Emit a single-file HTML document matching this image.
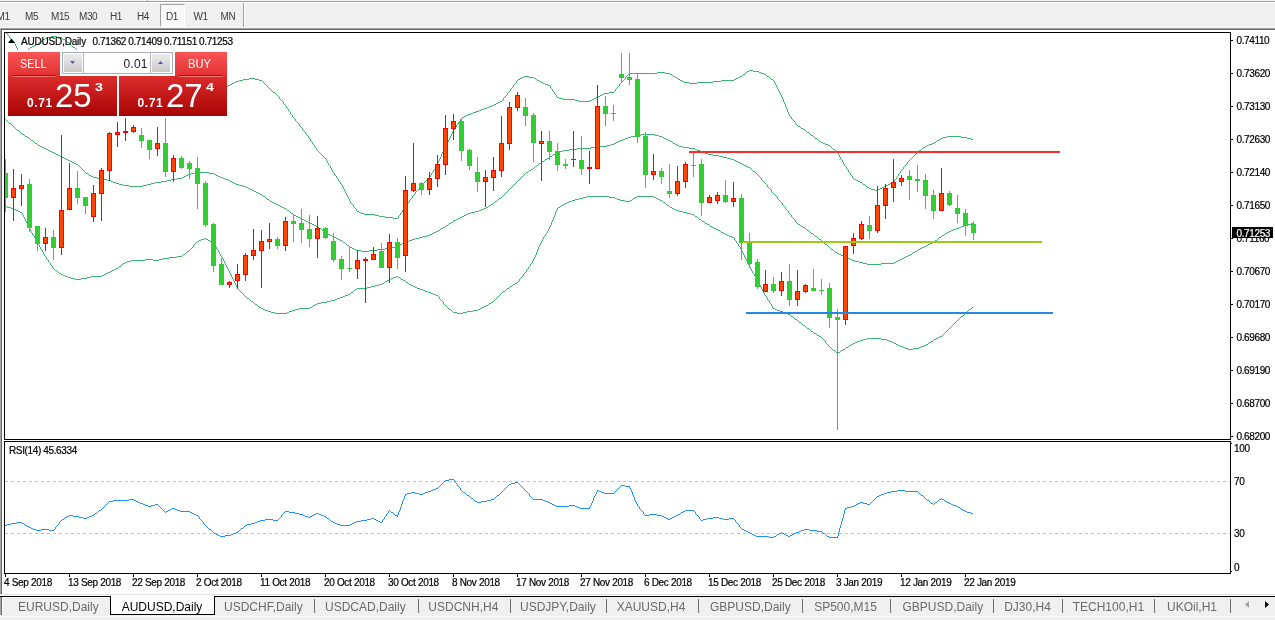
<!DOCTYPE html>
<html lang="en"><head><meta charset="utf-8"><title>AUDUSD,Daily</title>
<style>
html,body{margin:0;padding:0;}
body{width:1275px;height:620px;position:relative;overflow:hidden;background:#fff;font-family:"Liberation Sans",sans-serif;color:#000;}
.abs{position:absolute;}
.toolbar{position:absolute;left:0;top:0;width:1275px;height:27px;background:#f0f0f0;}
.tf{position:absolute;top:11px;font-size:10px;letter-spacing:-0.4px;line-height:11px;color:#3c3c3c;white-space:nowrap;}
.chart{position:absolute;left:0;top:0;}
.ax{position:absolute;font-size:10px;line-height:11px;letter-spacing:-0.37px;white-space:nowrap;color:#000;-webkit-text-stroke:0.2px #000;}
.tabbar{position:absolute;left:0;top:594px;width:1275px;height:26px;background:#f0f0f0;}
.tab{position:absolute;top:600px;font-size:12px;line-height:14px;color:#6a6a6a;white-space:nowrap;}
.sep{position:absolute;top:599px;width:1px;height:14px;background:#707070;}
.panel{position:absolute;left:8px;top:52px;width:219px;height:64px;background:#fff;color:#fff;}
</style></head><body>
<div class="toolbar">
<div class="abs" style="left:0;top:0;width:1275px;height:1px;background:#f5f5f5"></div>
<div class="abs" style="left:0;top:1px;width:1275px;height:1px;background:#a0a0a0"></div>
<div class="abs" style="left:0;top:2px;width:1275px;height:1px;background:#fff"></div>
<div class="abs" style="left:147px;top:0;width:1px;height:2px;background:#a0a0a0"></div>
<div class="abs" style="left:148px;top:0;width:1px;height:1px;background:#fff"></div>
<div class="abs" style="left:160px;top:4px;width:23px;height:21px;background:#f8f8f8;border-left:1px solid #a0a0a0;border-top:1px solid #a0a0a0;border-right:1px solid #fff;border-bottom:1px solid #fff;box-sizing:content-box"></div>
<div class="abs" style="left:243px;top:3px;width:1px;height:24px;background:#a0a0a0"></div>
<div class="abs" style="left:244px;top:3px;width:1px;height:24px;background:#fff"></div>
<span class="tf" style="left:-3.5px">M1</span>
<span class="tf" style="left:25px">M5</span>
<span class="tf" style="left:51px">M15</span>
<span class="tf" style="left:79px">M30</span>
<span class="tf" style="left:110px">H1</span>
<span class="tf" style="left:137px">H4</span>
<span class="tf" style="left:166px">D1</span>
<span class="tf" style="left:193.5px">W1</span>
<span class="tf" style="left:220.5px">MN</span>
</div>
<div class="abs" style="left:0;top:27px;width:1275px;height:1px;background:#f6f6f6"></div>
<div class="abs" style="left:0;top:28px;width:1275px;height:1px;background:#a0a0a0"></div>
<div class="abs" style="left:1px;top:29px;width:1274px;height:1px;background:#696969"></div>
<div class="abs" style="left:0;top:28px;width:1px;height:566px;background:#a6a6a6"></div>
<div class="abs" style="left:1px;top:29px;width:1px;height:565px;background:#696969"></div>
<svg class="chart" width="1275" height="620" viewBox="0 0 1275 620" shape-rendering="crispEdges">
<defs><clipPath id="cm"><rect x="5" y="33" width="1225" height="406"/></clipPath><clipPath id="cr"><rect x="5" y="442" width="1225" height="131"/></clipPath></defs>
<g clip-path="url(#cm)">
<path d="M5 32h1v1h-1zM6 33h1v1h-1zM7 34h1v1h-1zM8 35h1v1h-1zM9 36h1v1h-1zM51 36h6v1h-6zM9 37h1v1h-1zM47 37h4v1h-4zM57 37h5v1h-5zM10 38h1v1h-1zM45 38h2v1h-2zM62 38h1v1h-1zM11 39h1v1h-1zM43 39h2v1h-2zM63 39h2v1h-2zM12 40h1v1h-1zM42 40h1v1h-1zM65 40h1v1h-1zM13 41h1v1h-1zM41 41h1v1h-1zM66 41h1v1h-1zM14 42h1v1h-1zM39 42h2v1h-2zM67 42h2v1h-2zM14 43h1v1h-1zM38 43h1v1h-1zM69 43h1v1h-1zM15 44h1v1h-1zM36 44h2v1h-2zM70 44h1v1h-1zM15 45h1v1h-1zM34 45h2v1h-2zM71 45h1v1h-1zM16 46h1v1h-1zM32 46h2v1h-2zM72 46h1v1h-1zM16 47h1v1h-1zM30 47h2v1h-2zM73 47h2v1h-2zM17 48h1v1h-1zM29 48h1v1h-1zM75 48h1v1h-1zM17 49h1v1h-1zM28 49h1v1h-1zM76 49h1v1h-1zM18 50h1v1h-1zM27 50h1v1h-1zM77 50h1v1h-1zM18 51h1v1h-1zM26 51h1v1h-1zM78 51h1v1h-1zM19 52h1v1h-1zM25 52h1v1h-1zM79 52h1v1h-1zM19 53h1v1h-1zM25 53h1v1h-1zM80 53h1v1h-1zM20 54h1v1h-1zM24 54h1v1h-1zM81 54h1v1h-1zM20 55h1v1h-1zM23 55h1v1h-1zM82 55h1v1h-1zM21 56h2v1h-2zM83 56h1v1h-1zM21 57h1v1h-1zM84 57h1v1h-1zM85 58h1v1h-1zM86 59h1v1h-1zM87 60h2v1h-2zM89 61h1v1h-1zM90 62h1v1h-1zM91 63h2v1h-2zM93 64h1v1h-1zM94 65h1v1h-1zM95 66h2v1h-2zM97 67h1v1h-1zM98 68h1v1h-1zM99 69h2v1h-2zM101 70h1v1h-1zM749 70h4v1h-4zM102 71h2v1h-2zM747 71h2v1h-2zM753 71h6v1h-6zM104 72h2v1h-2zM657 72h8v1h-8zM746 72h1v1h-1zM759 72h2v1h-2zM106 73h2v1h-2zM629 73h28v1h-28zM665 73h5v1h-5zM745 73h1v1h-1zM761 73h3v1h-3zM108 74h2v1h-2zM628 74h1v1h-1zM670 74h2v1h-2zM743 74h2v1h-2zM764 74h2v1h-2zM110 75h2v1h-2zM627 75h1v1h-1zM672 75h1v1h-1zM742 75h1v1h-1zM766 75h1v1h-1zM112 76h2v1h-2zM524 76h5v1h-5zM626 76h1v1h-1zM673 76h2v1h-2zM740 76h2v1h-2zM767 76h2v1h-2zM114 77h2v1h-2zM522 77h2v1h-2zM529 77h5v1h-5zM625 77h1v1h-1zM675 77h2v1h-2zM738 77h2v1h-2zM769 77h1v1h-1zM116 78h2v1h-2zM249 78h6v1h-6zM520 78h2v1h-2zM534 78h2v1h-2zM625 78h1v1h-1zM677 78h1v1h-1zM736 78h2v1h-2zM770 78h1v1h-1zM118 79h2v1h-2zM243 79h6v1h-6zM255 79h4v1h-4zM518 79h2v1h-2zM536 79h1v1h-1zM624 79h1v1h-1zM678 79h2v1h-2zM734 79h2v1h-2zM771 79h2v1h-2zM120 80h2v1h-2zM239 80h4v1h-4zM259 80h3v1h-3zM517 80h1v1h-1zM537 80h2v1h-2zM623 80h1v1h-1zM680 80h2v1h-2zM721 80h13v1h-13zM773 80h1v1h-1zM122 81h2v1h-2zM236 81h3v1h-3zM262 81h1v1h-1zM516 81h1v1h-1zM539 81h2v1h-2zM622 81h1v1h-1zM682 81h2v1h-2zM713 81h8v1h-8zM774 81h1v1h-1zM124 82h2v1h-2zM234 82h2v1h-2zM263 82h1v1h-1zM516 82h1v1h-1zM541 82h2v1h-2zM621 82h1v1h-1zM684 82h5v1h-5zM697 82h16v1h-16zM774 82h1v1h-1zM126 83h2v1h-2zM232 83h2v1h-2zM264 83h1v1h-1zM515 83h1v1h-1zM543 83h2v1h-2zM620 83h1v1h-1zM689 83h8v1h-8zM775 83h1v1h-1zM128 84h2v1h-2zM230 84h2v1h-2zM265 84h1v1h-1zM514 84h1v1h-1zM545 84h3v1h-3zM619 84h1v1h-1zM775 84h1v1h-1zM130 85h2v1h-2zM228 85h2v1h-2zM266 85h1v1h-1zM513 85h1v1h-1zM548 85h2v1h-2zM619 85h1v1h-1zM776 85h1v1h-1zM132 86h2v1h-2zM225 86h3v1h-3zM267 86h1v1h-1zM513 86h1v1h-1zM550 86h1v1h-1zM618 86h1v1h-1zM776 86h1v1h-1zM134 87h2v1h-2zM223 87h2v1h-2zM268 87h1v1h-1zM512 87h1v1h-1zM550 87h1v1h-1zM617 87h1v1h-1zM777 87h1v1h-1zM136 88h2v1h-2zM219 88h4v1h-4zM269 88h1v1h-1zM511 88h1v1h-1zM551 88h1v1h-1zM616 88h1v1h-1zM777 88h1v1h-1zM138 89h2v1h-2zM215 89h4v1h-4zM270 89h1v1h-1zM510 89h1v1h-1zM552 89h1v1h-1zM615 89h1v1h-1zM778 89h1v1h-1zM140 90h2v1h-2zM212 90h3v1h-3zM271 90h1v1h-1zM510 90h1v1h-1zM552 90h1v1h-1zM615 90h1v1h-1zM778 90h1v1h-1zM142 91h2v1h-2zM209 91h3v1h-3zM272 91h1v1h-1zM509 91h1v1h-1zM553 91h1v1h-1zM614 91h1v1h-1zM779 91h1v1h-1zM144 92h2v1h-2zM207 92h2v1h-2zM273 92h2v1h-2zM508 92h1v1h-1zM554 92h1v1h-1zM609 92h5v1h-5zM779 92h1v1h-1zM146 93h2v1h-2zM201 93h6v1h-6zM275 93h1v1h-1zM507 93h1v1h-1zM554 93h1v1h-1zM604 93h5v1h-5zM780 93h1v1h-1zM148 94h53v1h-53zM276 94h1v1h-1zM507 94h1v1h-1zM555 94h1v1h-1zM602 94h2v1h-2zM780 94h1v1h-1zM277 95h1v1h-1zM506 95h1v1h-1zM556 95h1v1h-1zM600 95h2v1h-2zM781 95h1v1h-1zM278 96h1v1h-1zM505 96h1v1h-1zM556 96h1v1h-1zM598 96h2v1h-2zM781 96h1v1h-1zM279 97h1v1h-1zM504 97h1v1h-1zM557 97h2v1h-2zM596 97h2v1h-2zM782 97h1v1h-1zM279 98h1v1h-1zM503 98h1v1h-1zM559 98h4v1h-4zM594 98h2v1h-2zM782 98h1v1h-1zM280 99h1v1h-1zM503 99h1v1h-1zM563 99h12v1h-12zM592 99h2v1h-2zM783 99h1v1h-1zM281 100h1v1h-1zM502 100h1v1h-1zM575 100h4v1h-4zM590 100h2v1h-2zM783 100h1v1h-1zM282 101h1v1h-1zM500 101h2v1h-2zM579 101h11v1h-11zM783 101h1v1h-1zM283 102h1v1h-1zM498 102h2v1h-2zM784 102h1v1h-1zM283 103h1v1h-1zM496 103h2v1h-2zM784 103h1v1h-1zM284 104h1v1h-1zM494 104h2v1h-2zM785 104h1v1h-1zM285 105h1v1h-1zM492 105h2v1h-2zM785 105h1v1h-1zM286 106h1v1h-1zM489 106h3v1h-3zM785 106h1v1h-1zM286 107h1v1h-1zM487 107h2v1h-2zM786 107h1v1h-1zM287 108h1v1h-1zM484 108h3v1h-3zM786 108h1v1h-1zM288 109h1v1h-1zM481 109h3v1h-3zM787 109h1v1h-1zM288 110h1v1h-1zM479 110h2v1h-2zM787 110h1v1h-1zM289 111h1v1h-1zM476 111h3v1h-3zM787 111h1v1h-1zM290 112h1v1h-1zM473 112h3v1h-3zM788 112h1v1h-1zM290 113h1v1h-1zM471 113h2v1h-2zM788 113h1v1h-1zM291 114h1v1h-1zM468 114h3v1h-3zM789 114h1v1h-1zM292 115h1v1h-1zM466 115h2v1h-2zM789 115h1v1h-1zM292 116h1v1h-1zM464 116h2v1h-2zM790 116h1v1h-1zM293 117h1v1h-1zM462 117h2v1h-2zM791 117h1v1h-1zM294 118h1v1h-1zM461 118h1v1h-1zM791 118h1v1h-1zM295 119h1v1h-1zM460 119h1v1h-1zM792 119h1v1h-1zM295 120h1v1h-1zM460 120h1v1h-1zM793 120h1v1h-1zM296 121h1v1h-1zM459 121h1v1h-1zM794 121h1v1h-1zM297 122h1v1h-1zM458 122h1v1h-1zM795 122h1v1h-1zM298 123h1v1h-1zM458 123h1v1h-1zM795 123h1v1h-1zM299 124h1v1h-1zM457 124h1v1h-1zM796 124h1v1h-1zM299 125h1v1h-1zM456 125h1v1h-1zM797 125h1v1h-1zM300 126h1v1h-1zM456 126h1v1h-1zM798 126h2v1h-2zM301 127h1v1h-1zM455 127h1v1h-1zM800 127h1v1h-1zM302 128h1v1h-1zM454 128h1v1h-1zM801 128h2v1h-2zM302 129h1v1h-1zM454 129h1v1h-1zM803 129h2v1h-2zM303 130h1v1h-1zM453 130h1v1h-1zM805 130h1v1h-1zM304 131h1v1h-1zM453 131h1v1h-1zM806 131h1v1h-1zM305 132h1v1h-1zM452 132h1v1h-1zM807 132h2v1h-2zM305 133h1v1h-1zM452 133h1v1h-1zM809 133h1v1h-1zM306 134h1v1h-1zM451 134h1v1h-1zM810 134h1v1h-1zM307 135h1v1h-1zM451 135h1v1h-1zM811 135h2v1h-2zM308 136h1v1h-1zM450 136h1v1h-1zM813 136h1v1h-1zM947 136h14v1h-14zM308 137h1v1h-1zM450 137h1v1h-1zM814 137h1v1h-1zM943 137h4v1h-4zM961 137h6v1h-6zM309 138h1v1h-1zM449 138h1v1h-1zM815 138h2v1h-2zM941 138h2v1h-2zM967 138h4v1h-4zM310 139h1v1h-1zM449 139h1v1h-1zM817 139h1v1h-1zM939 139h2v1h-2zM971 139h2v1h-2zM310 140h1v1h-1zM448 140h1v1h-1zM818 140h1v1h-1zM937 140h2v1h-2zM311 141h1v1h-1zM448 141h1v1h-1zM819 141h2v1h-2zM936 141h1v1h-1zM312 142h1v1h-1zM447 142h1v1h-1zM821 142h2v1h-2zM934 142h2v1h-2zM312 143h1v1h-1zM447 143h1v1h-1zM823 143h2v1h-2zM932 143h2v1h-2zM313 144h1v1h-1zM446 144h1v1h-1zM825 144h3v1h-3zM929 144h3v1h-3zM314 145h1v1h-1zM446 145h1v1h-1zM828 145h2v1h-2zM927 145h2v1h-2zM314 146h1v1h-1zM445 146h1v1h-1zM830 146h1v1h-1zM925 146h2v1h-2zM315 147h1v1h-1zM445 147h1v1h-1zM831 147h1v1h-1zM923 147h2v1h-2zM316 148h1v1h-1zM444 148h1v1h-1zM832 148h1v1h-1zM922 148h1v1h-1zM316 149h1v1h-1zM444 149h1v1h-1zM833 149h2v1h-2zM921 149h1v1h-1zM317 150h1v1h-1zM443 150h1v1h-1zM835 150h1v1h-1zM919 150h2v1h-2zM318 151h1v1h-1zM443 151h1v1h-1zM836 151h1v1h-1zM918 151h1v1h-1zM319 152h1v1h-1zM442 152h1v1h-1zM837 152h1v1h-1zM917 152h1v1h-1zM320 153h1v1h-1zM442 153h1v1h-1zM838 153h1v1h-1zM916 153h1v1h-1zM321 154h1v1h-1zM441 154h1v1h-1zM838 154h1v1h-1zM915 154h1v1h-1zM322 155h1v1h-1zM441 155h1v1h-1zM839 155h1v1h-1zM914 155h1v1h-1zM323 156h1v1h-1zM441 156h1v1h-1zM839 156h1v1h-1zM913 156h1v1h-1zM324 157h1v1h-1zM440 157h1v1h-1zM840 157h1v1h-1zM912 157h1v1h-1zM325 158h1v1h-1zM440 158h1v1h-1zM840 158h1v1h-1zM911 158h1v1h-1zM326 159h1v1h-1zM439 159h1v1h-1zM841 159h1v1h-1zM910 159h1v1h-1zM326 160h1v1h-1zM439 160h1v1h-1zM842 160h1v1h-1zM909 160h1v1h-1zM327 161h1v1h-1zM438 161h1v1h-1zM842 161h1v1h-1zM908 161h1v1h-1zM327 162h1v1h-1zM438 162h1v1h-1zM843 162h1v1h-1zM907 162h1v1h-1zM328 163h1v1h-1zM437 163h1v1h-1zM843 163h1v1h-1zM907 163h1v1h-1zM328 164h1v1h-1zM437 164h1v1h-1zM844 164h1v1h-1zM906 164h1v1h-1zM329 165h1v1h-1zM436 165h1v1h-1zM844 165h1v1h-1zM905 165h1v1h-1zM330 166h1v1h-1zM436 166h1v1h-1zM845 166h1v1h-1zM904 166h1v1h-1zM330 167h1v1h-1zM435 167h1v1h-1zM846 167h1v1h-1zM903 167h1v1h-1zM331 168h1v1h-1zM435 168h1v1h-1zM846 168h1v1h-1zM903 168h1v1h-1zM331 169h1v1h-1zM434 169h1v1h-1zM847 169h1v1h-1zM902 169h1v1h-1zM332 170h1v1h-1zM433 170h1v1h-1zM848 170h1v1h-1zM901 170h1v1h-1zM332 171h1v1h-1zM433 171h1v1h-1zM848 171h1v1h-1zM900 171h1v1h-1zM333 172h1v1h-1zM432 172h1v1h-1zM849 172h1v1h-1zM900 172h1v1h-1zM334 173h1v1h-1zM431 173h1v1h-1zM850 173h1v1h-1zM899 173h1v1h-1zM334 174h1v1h-1zM431 174h1v1h-1zM850 174h1v1h-1zM898 174h1v1h-1zM335 175h1v1h-1zM430 175h1v1h-1zM851 175h1v1h-1zM898 175h1v1h-1zM336 176h1v1h-1zM430 176h1v1h-1zM852 176h1v1h-1zM897 176h1v1h-1zM336 177h1v1h-1zM429 177h1v1h-1zM852 177h1v1h-1zM896 177h1v1h-1zM337 178h1v1h-1zM428 178h1v1h-1zM853 178h1v1h-1zM896 178h1v1h-1zM338 179h1v1h-1zM427 179h1v1h-1zM854 179h2v1h-2zM895 179h1v1h-1zM338 180h1v1h-1zM426 180h1v1h-1zM856 180h2v1h-2zM894 180h1v1h-1zM339 181h1v1h-1zM425 181h1v1h-1zM858 181h2v1h-2zM894 181h1v1h-1zM340 182h1v1h-1zM424 182h1v1h-1zM860 182h2v1h-2zM892 182h2v1h-2zM340 183h1v1h-1zM423 183h1v1h-1zM862 183h1v1h-1zM890 183h2v1h-2zM341 184h1v1h-1zM422 184h1v1h-1zM863 184h2v1h-2zM888 184h2v1h-2zM342 185h1v1h-1zM421 185h1v1h-1zM865 185h1v1h-1zM886 185h2v1h-2zM342 186h1v1h-1zM420 186h1v1h-1zM866 186h1v1h-1zM884 186h2v1h-2zM343 187h1v1h-1zM419 187h1v1h-1zM867 187h2v1h-2zM882 187h2v1h-2zM343 188h1v1h-1zM419 188h1v1h-1zM869 188h2v1h-2zM880 188h2v1h-2zM344 189h1v1h-1zM418 189h1v1h-1zM871 189h4v1h-4zM878 189h2v1h-2zM344 190h1v1h-1zM417 190h1v1h-1zM875 190h3v1h-3zM345 191h1v1h-1zM416 191h1v1h-1zM345 192h1v1h-1zM415 192h1v1h-1zM346 193h1v1h-1zM415 193h1v1h-1zM346 194h1v1h-1zM414 194h1v1h-1zM347 195h1v1h-1zM413 195h1v1h-1zM347 196h1v1h-1zM412 196h1v1h-1zM348 197h1v1h-1zM412 197h1v1h-1zM348 198h1v1h-1zM411 198h1v1h-1zM349 199h1v1h-1zM410 199h1v1h-1zM349 200h1v1h-1zM409 200h1v1h-1zM350 201h1v1h-1zM409 201h1v1h-1zM350 202h1v1h-1zM408 202h1v1h-1zM351 203h1v1h-1zM407 203h1v1h-1zM352 204h1v1h-1zM406 204h1v1h-1zM353 205h1v1h-1zM406 205h1v1h-1zM353 206h1v1h-1zM405 206h1v1h-1zM354 207h1v1h-1zM404 207h1v1h-1zM355 208h1v1h-1zM404 208h1v1h-1zM356 209h1v1h-1zM403 209h1v1h-1zM356 210h1v1h-1zM402 210h1v1h-1zM357 211h2v1h-2zM402 211h1v1h-1zM359 212h2v1h-2zM401 212h1v1h-1zM361 213h3v1h-3zM400 213h1v1h-1zM364 214h11v1h-11zM400 214h1v1h-1zM375 215h4v1h-4zM399 215h1v1h-1zM379 216h6v1h-6zM398 216h1v1h-1zM385 217h8v1h-8zM398 217h1v1h-1zM393 218h5v1h-5z" fill="#3cb371"/>
<path d="M5 119h1v1h-1zM6 120h1v1h-1zM7 121h1v1h-1zM8 122h1v1h-1zM9 123h2v1h-2zM11 124h1v1h-1zM12 125h1v1h-1zM13 126h1v1h-1zM14 127h1v1h-1zM15 128h1v1h-1zM16 129h1v1h-1zM17 130h2v1h-2zM19 131h1v1h-1zM20 132h1v1h-1zM21 133h1v1h-1zM22 134h2v1h-2zM641 134h14v1h-14zM24 135h1v1h-1zM635 135h6v1h-6zM655 135h4v1h-4zM25 136h2v1h-2zM631 136h4v1h-4zM659 136h3v1h-3zM27 137h2v1h-2zM628 137h3v1h-3zM662 137h2v1h-2zM29 138h1v1h-1zM625 138h3v1h-3zM664 138h2v1h-2zM30 139h1v1h-1zM623 139h2v1h-2zM666 139h2v1h-2zM31 140h2v1h-2zM620 140h3v1h-3zM668 140h2v1h-2zM33 141h1v1h-1zM618 141h2v1h-2zM670 141h2v1h-2zM34 142h1v1h-1zM616 142h2v1h-2zM672 142h1v1h-1zM35 143h2v1h-2zM614 143h2v1h-2zM673 143h2v1h-2zM37 144h1v1h-1zM611 144h3v1h-3zM675 144h2v1h-2zM38 145h2v1h-2zM607 145h4v1h-4zM677 145h2v1h-2zM40 146h2v1h-2zM595 146h12v1h-12zM679 146h4v1h-4zM42 147h2v1h-2zM591 147h4v1h-4zM683 147h6v1h-6zM44 148h2v1h-2zM577 148h14v1h-14zM689 148h6v1h-6zM46 149h2v1h-2zM569 149h8v1h-8zM695 149h2v1h-2zM48 150h2v1h-2zM563 150h6v1h-6zM697 150h3v1h-3zM50 151h2v1h-2zM559 151h4v1h-4zM700 151h3v1h-3zM52 152h2v1h-2zM557 152h2v1h-2zM703 152h2v1h-2zM54 153h2v1h-2zM555 153h2v1h-2zM705 153h3v1h-3zM56 154h2v1h-2zM553 154h2v1h-2zM708 154h5v1h-5zM58 155h2v1h-2zM552 155h1v1h-1zM713 155h6v1h-6zM60 156h2v1h-2zM550 156h2v1h-2zM719 156h4v1h-4zM62 157h2v1h-2zM549 157h1v1h-1zM723 157h4v1h-4zM64 158h2v1h-2zM547 158h2v1h-2zM727 158h4v1h-4zM66 159h2v1h-2zM545 159h2v1h-2zM731 159h3v1h-3zM68 160h2v1h-2zM544 160h1v1h-1zM734 160h2v1h-2zM70 161h2v1h-2zM542 161h2v1h-2zM736 161h2v1h-2zM72 162h2v1h-2zM541 162h1v1h-1zM738 162h2v1h-2zM74 163h2v1h-2zM539 163h2v1h-2zM740 163h2v1h-2zM76 164h2v1h-2zM538 164h1v1h-1zM742 164h2v1h-2zM78 165h1v1h-1zM537 165h1v1h-1zM744 165h2v1h-2zM79 166h1v1h-1zM535 166h2v1h-2zM746 166h2v1h-2zM80 167h1v1h-1zM534 167h1v1h-1zM748 167h2v1h-2zM81 168h1v1h-1zM533 168h1v1h-1zM750 168h1v1h-1zM82 169h1v1h-1zM531 169h2v1h-2zM751 169h1v1h-1zM83 170h1v1h-1zM529 170h2v1h-2zM752 170h1v1h-1zM84 171h1v1h-1zM528 171h1v1h-1zM753 171h2v1h-2zM85 172h1v1h-1zM195 172h14v1h-14zM526 172h2v1h-2zM755 172h1v1h-1zM86 173h2v1h-2zM191 173h4v1h-4zM209 173h5v1h-5zM525 173h1v1h-1zM756 173h1v1h-1zM88 174h1v1h-1zM188 174h3v1h-3zM214 174h2v1h-2zM524 174h1v1h-1zM757 174h1v1h-1zM89 175h2v1h-2zM186 175h2v1h-2zM216 175h2v1h-2zM523 175h1v1h-1zM758 175h1v1h-1zM91 176h2v1h-2zM184 176h2v1h-2zM218 176h2v1h-2zM522 176h1v1h-1zM759 176h1v1h-1zM93 177h4v1h-4zM182 177h2v1h-2zM220 177h3v1h-3zM521 177h1v1h-1zM760 177h1v1h-1zM97 178h6v1h-6zM177 178h5v1h-5zM223 178h2v1h-2zM520 178h1v1h-1zM761 178h1v1h-1zM103 179h4v1h-4zM171 179h6v1h-6zM225 179h3v1h-3zM519 179h1v1h-1zM761 179h1v1h-1zM107 180h4v1h-4zM167 180h4v1h-4zM228 180h2v1h-2zM518 180h1v1h-1zM762 180h1v1h-1zM111 181h2v1h-2zM161 181h6v1h-6zM230 181h2v1h-2zM517 181h1v1h-1zM763 181h1v1h-1zM113 182h3v1h-3zM155 182h6v1h-6zM232 182h2v1h-2zM516 182h1v1h-1zM764 182h1v1h-1zM116 183h3v1h-3zM151 183h4v1h-4zM234 183h2v1h-2zM515 183h1v1h-1zM765 183h1v1h-1zM119 184h4v1h-4zM147 184h4v1h-4zM236 184h3v1h-3zM514 184h1v1h-1zM766 184h1v1h-1zM123 185h6v1h-6zM143 185h4v1h-4zM239 185h4v1h-4zM513 185h1v1h-1zM767 185h1v1h-1zM129 186h14v1h-14zM243 186h3v1h-3zM512 186h1v1h-1zM767 186h1v1h-1zM246 187h2v1h-2zM511 187h1v1h-1zM768 187h1v1h-1zM248 188h2v1h-2zM510 188h1v1h-1zM769 188h1v1h-1zM250 189h2v1h-2zM509 189h1v1h-1zM770 189h1v1h-1zM252 190h2v1h-2zM508 190h1v1h-1zM771 190h1v1h-1zM254 191h2v1h-2zM507 191h1v1h-1zM771 191h1v1h-1zM256 192h2v1h-2zM506 192h1v1h-1zM772 192h1v1h-1zM258 193h2v1h-2zM505 193h1v1h-1zM773 193h1v1h-1zM260 194h2v1h-2zM504 194h1v1h-1zM774 194h1v1h-1zM262 195h1v1h-1zM503 195h1v1h-1zM775 195h1v1h-1zM263 196h2v1h-2zM502 196h1v1h-1zM776 196h1v1h-1zM265 197h1v1h-1zM501 197h1v1h-1zM777 197h1v1h-1zM266 198h1v1h-1zM499 198h2v1h-2zM777 198h1v1h-1zM267 199h2v1h-2zM498 199h1v1h-1zM778 199h1v1h-1zM269 200h1v1h-1zM497 200h1v1h-1zM779 200h1v1h-1zM270 201h2v1h-2zM495 201h2v1h-2zM780 201h1v1h-1zM272 202h2v1h-2zM494 202h1v1h-1zM781 202h1v1h-1zM274 203h2v1h-2zM493 203h1v1h-1zM782 203h1v1h-1zM276 204h2v1h-2zM491 204h2v1h-2zM782 204h1v1h-1zM278 205h2v1h-2zM489 205h2v1h-2zM783 205h1v1h-1zM280 206h2v1h-2zM488 206h1v1h-1zM784 206h1v1h-1zM282 207h2v1h-2zM486 207h2v1h-2zM785 207h1v1h-1zM284 208h2v1h-2zM484 208h2v1h-2zM785 208h1v1h-1zM286 209h1v1h-1zM481 209h3v1h-3zM786 209h1v1h-1zM287 210h2v1h-2zM479 210h2v1h-2zM787 210h1v1h-1zM289 211h1v1h-1zM475 211h4v1h-4zM788 211h1v1h-1zM290 212h1v1h-1zM471 212h4v1h-4zM788 212h1v1h-1zM291 213h2v1h-2zM468 213h3v1h-3zM789 213h1v1h-1zM293 214h1v1h-1zM466 214h2v1h-2zM790 214h1v1h-1zM294 215h2v1h-2zM464 215h2v1h-2zM791 215h1v1h-1zM296 216h2v1h-2zM462 216h2v1h-2zM791 216h1v1h-1zM298 217h2v1h-2zM460 217h2v1h-2zM792 217h1v1h-1zM300 218h2v1h-2zM458 218h2v1h-2zM793 218h1v1h-1zM302 219h2v1h-2zM456 219h2v1h-2zM794 219h1v1h-1zM304 220h2v1h-2zM454 220h2v1h-2zM795 220h1v1h-1zM306 221h2v1h-2zM453 221h1v1h-1zM795 221h1v1h-1zM308 222h2v1h-2zM451 222h2v1h-2zM796 222h1v1h-1zM310 223h2v1h-2zM449 223h2v1h-2zM797 223h1v1h-1zM971 223h2v1h-2zM312 224h2v1h-2zM448 224h1v1h-1zM798 224h2v1h-2zM967 224h4v1h-4zM314 225h2v1h-2zM446 225h2v1h-2zM800 225h1v1h-1zM964 225h3v1h-3zM316 226h2v1h-2zM445 226h1v1h-1zM801 226h2v1h-2zM961 226h3v1h-3zM318 227h1v1h-1zM443 227h2v1h-2zM803 227h2v1h-2zM959 227h2v1h-2zM319 228h2v1h-2zM441 228h2v1h-2zM805 228h1v1h-1zM956 228h3v1h-3zM321 229h1v1h-1zM440 229h1v1h-1zM806 229h1v1h-1zM953 229h3v1h-3zM322 230h1v1h-1zM438 230h2v1h-2zM807 230h2v1h-2zM951 230h2v1h-2zM323 231h2v1h-2zM436 231h2v1h-2zM809 231h1v1h-1zM949 231h2v1h-2zM325 232h1v1h-1zM434 232h2v1h-2zM810 232h1v1h-1zM947 232h2v1h-2zM326 233h2v1h-2zM432 233h2v1h-2zM811 233h2v1h-2zM945 233h2v1h-2zM328 234h2v1h-2zM430 234h2v1h-2zM813 234h1v1h-1zM944 234h1v1h-1zM330 235h2v1h-2zM427 235h3v1h-3zM814 235h1v1h-1zM942 235h2v1h-2zM332 236h2v1h-2zM423 236h4v1h-4zM815 236h2v1h-2zM941 236h1v1h-1zM334 237h2v1h-2zM419 237h4v1h-4zM817 237h1v1h-1zM939 237h2v1h-2zM336 238h2v1h-2zM415 238h4v1h-4zM818 238h1v1h-1zM938 238h1v1h-1zM338 239h2v1h-2zM412 239h3v1h-3zM819 239h2v1h-2zM937 239h1v1h-1zM340 240h2v1h-2zM409 240h3v1h-3zM821 240h1v1h-1zM935 240h2v1h-2zM342 241h1v1h-1zM407 241h2v1h-2zM822 241h1v1h-1zM934 241h1v1h-1zM343 242h2v1h-2zM404 242h3v1h-3zM823 242h1v1h-1zM932 242h2v1h-2zM345 243h1v1h-1zM402 243h2v1h-2zM824 243h1v1h-1zM930 243h2v1h-2zM346 244h1v1h-1zM400 244h2v1h-2zM825 244h2v1h-2zM928 244h2v1h-2zM347 245h2v1h-2zM398 245h2v1h-2zM827 245h1v1h-1zM926 245h2v1h-2zM349 246h1v1h-1zM395 246h3v1h-3zM828 246h1v1h-1zM924 246h2v1h-2zM350 247h2v1h-2zM391 247h4v1h-4zM829 247h1v1h-1zM922 247h2v1h-2zM352 248h2v1h-2zM385 248h6v1h-6zM830 248h1v1h-1zM920 248h2v1h-2zM354 249h2v1h-2zM377 249h8v1h-8zM831 249h2v1h-2zM918 249h2v1h-2zM356 250h5v1h-5zM369 250h8v1h-8zM833 250h1v1h-1zM917 250h1v1h-1zM361 251h8v1h-8zM834 251h1v1h-1zM915 251h2v1h-2zM835 252h2v1h-2zM913 252h2v1h-2zM837 253h2v1h-2zM912 253h1v1h-1zM839 254h2v1h-2zM910 254h2v1h-2zM841 255h3v1h-3zM908 255h2v1h-2zM844 256h2v1h-2zM906 256h2v1h-2zM846 257h2v1h-2zM904 257h2v1h-2zM848 258h2v1h-2zM902 258h2v1h-2zM850 259h2v1h-2zM900 259h2v1h-2zM852 260h3v1h-3zM898 260h2v1h-2zM855 261h4v1h-4zM896 261h2v1h-2zM859 262h4v1h-4zM894 262h2v1h-2zM863 263h4v1h-4zM881 263h13v1h-13zM867 264h14v1h-14z" fill="#3cb371"/>
<path d="M587 196h22v1h-22zM637 196h17v1h-17zM583 197h4v1h-4zM609 197h6v1h-6zM635 197h2v1h-2zM654 197h2v1h-2zM579 198h4v1h-4zM615 198h2v1h-2zM633 198h2v1h-2zM656 198h2v1h-2zM575 199h4v1h-4zM617 199h3v1h-3zM632 199h1v1h-1zM658 199h2v1h-2zM572 200h3v1h-3zM620 200h5v1h-5zM630 200h2v1h-2zM660 200h2v1h-2zM569 201h3v1h-3zM625 201h5v1h-5zM662 201h1v1h-1zM567 202h2v1h-2zM663 202h2v1h-2zM565 203h2v1h-2zM665 203h1v1h-1zM563 204h2v1h-2zM666 204h1v1h-1zM561 205h2v1h-2zM667 205h2v1h-2zM5 206h2v1h-2zM560 206h1v1h-1zM669 206h1v1h-1zM7 207h4v1h-4zM558 207h2v1h-2zM670 207h2v1h-2zM11 208h3v1h-3zM557 208h1v1h-1zM672 208h2v1h-2zM14 209h2v1h-2zM557 209h1v1h-1zM674 209h2v1h-2zM16 210h2v1h-2zM556 210h1v1h-1zM676 210h3v1h-3zM18 211h2v1h-2zM556 211h1v1h-1zM679 211h4v1h-4zM20 212h2v1h-2zM555 212h1v1h-1zM683 212h4v1h-4zM22 213h1v1h-1zM555 213h1v1h-1zM687 213h4v1h-4zM22 214h1v1h-1zM555 214h1v1h-1zM691 214h3v1h-3zM23 215h1v1h-1zM554 215h1v1h-1zM694 215h1v1h-1zM23 216h1v1h-1zM554 216h1v1h-1zM695 216h2v1h-2zM24 217h1v1h-1zM553 217h1v1h-1zM697 217h1v1h-1zM24 218h1v1h-1zM553 218h1v1h-1zM698 218h1v1h-1zM25 219h1v1h-1zM553 219h1v1h-1zM699 219h2v1h-2zM25 220h1v1h-1zM552 220h1v1h-1zM701 220h1v1h-1zM26 221h1v1h-1zM552 221h1v1h-1zM702 221h2v1h-2zM26 222h1v1h-1zM551 222h1v1h-1zM704 222h1v1h-1zM27 223h1v1h-1zM551 223h1v1h-1zM705 223h2v1h-2zM27 224h1v1h-1zM551 224h1v1h-1zM707 224h2v1h-2zM28 225h1v1h-1zM550 225h1v1h-1zM709 225h1v1h-1zM28 226h1v1h-1zM550 226h1v1h-1zM710 226h2v1h-2zM29 227h1v1h-1zM549 227h1v1h-1zM712 227h2v1h-2zM29 228h1v1h-1zM549 228h1v1h-1zM714 228h2v1h-2zM30 229h1v1h-1zM548 229h1v1h-1zM716 229h2v1h-2zM30 230h1v1h-1zM548 230h1v1h-1zM718 230h2v1h-2zM31 231h1v1h-1zM547 231h1v1h-1zM720 231h1v1h-1zM31 232h1v1h-1zM547 232h1v1h-1zM721 232h2v1h-2zM32 233h1v1h-1zM546 233h1v1h-1zM723 233h2v1h-2zM32 234h1v1h-1zM545 234h1v1h-1zM725 234h2v1h-2zM33 235h1v1h-1zM545 235h1v1h-1zM727 235h2v1h-2zM34 236h1v1h-1zM544 236h1v1h-1zM729 236h3v1h-3zM34 237h1v1h-1zM543 237h1v1h-1zM732 237h2v1h-2zM35 238h1v1h-1zM204 238h2v1h-2zM543 238h1v1h-1zM734 238h1v1h-1zM35 239h1v1h-1zM201 239h3v1h-3zM206 239h2v1h-2zM542 239h1v1h-1zM734 239h1v1h-1zM36 240h1v1h-1zM199 240h2v1h-2zM208 240h2v1h-2zM542 240h1v1h-1zM735 240h1v1h-1zM36 241h1v1h-1zM197 241h2v1h-2zM210 241h2v1h-2zM541 241h1v1h-1zM736 241h1v1h-1zM37 242h1v1h-1zM196 242h1v1h-1zM212 242h2v1h-2zM541 242h1v1h-1zM736 242h1v1h-1zM38 243h1v1h-1zM195 243h1v1h-1zM214 243h1v1h-1zM540 243h1v1h-1zM737 243h1v1h-1zM38 244h1v1h-1zM194 244h1v1h-1zM214 244h1v1h-1zM540 244h1v1h-1zM738 244h1v1h-1zM39 245h1v1h-1zM193 245h1v1h-1zM215 245h1v1h-1zM539 245h1v1h-1zM738 245h1v1h-1zM39 246h1v1h-1zM193 246h1v1h-1zM215 246h1v1h-1zM539 246h1v1h-1zM739 246h1v1h-1zM40 247h1v1h-1zM192 247h1v1h-1zM216 247h1v1h-1zM538 247h1v1h-1zM740 247h1v1h-1zM40 248h1v1h-1zM191 248h1v1h-1zM216 248h1v1h-1zM538 248h1v1h-1zM740 248h1v1h-1zM41 249h1v1h-1zM190 249h1v1h-1zM217 249h1v1h-1zM538 249h1v1h-1zM741 249h1v1h-1zM42 250h1v1h-1zM189 250h1v1h-1zM218 250h1v1h-1zM537 250h1v1h-1zM741 250h1v1h-1zM42 251h1v1h-1zM187 251h2v1h-2zM218 251h1v1h-1zM537 251h1v1h-1zM742 251h1v1h-1zM43 252h1v1h-1zM186 252h1v1h-1zM219 252h1v1h-1zM536 252h1v1h-1zM742 252h1v1h-1zM43 253h1v1h-1zM185 253h1v1h-1zM219 253h1v1h-1zM536 253h1v1h-1zM743 253h1v1h-1zM44 254h1v1h-1zM183 254h2v1h-2zM220 254h1v1h-1zM536 254h1v1h-1zM743 254h1v1h-1zM44 255h1v1h-1zM182 255h1v1h-1zM220 255h1v1h-1zM535 255h1v1h-1zM744 255h1v1h-1zM45 256h1v1h-1zM177 256h5v1h-5zM221 256h1v1h-1zM535 256h1v1h-1zM744 256h1v1h-1zM46 257h1v1h-1zM169 257h8v1h-8zM222 257h1v1h-1zM534 257h1v1h-1zM745 257h1v1h-1zM46 258h1v1h-1zM163 258h6v1h-6zM222 258h1v1h-1zM534 258h1v1h-1zM745 258h1v1h-1zM47 259h1v1h-1zM145 259h8v1h-8zM159 259h4v1h-4zM223 259h1v1h-1zM533 259h1v1h-1zM746 259h1v1h-1zM48 260h1v1h-1zM131 260h14v1h-14zM153 260h6v1h-6zM223 260h1v1h-1zM533 260h1v1h-1zM746 260h1v1h-1zM48 261h1v1h-1zM127 261h4v1h-4zM224 261h1v1h-1zM532 261h1v1h-1zM747 261h1v1h-1zM49 262h1v1h-1zM125 262h2v1h-2zM224 262h1v1h-1zM532 262h1v1h-1zM747 262h1v1h-1zM50 263h1v1h-1zM123 263h2v1h-2zM225 263h1v1h-1zM531 263h1v1h-1zM748 263h1v1h-1zM50 264h1v1h-1zM122 264h1v1h-1zM225 264h1v1h-1zM530 264h1v1h-1zM748 264h1v1h-1zM51 265h1v1h-1zM121 265h1v1h-1zM226 265h1v1h-1zM530 265h1v1h-1zM749 265h1v1h-1zM52 266h1v1h-1zM119 266h2v1h-2zM226 266h1v1h-1zM529 266h1v1h-1zM749 266h1v1h-1zM52 267h1v1h-1zM118 267h1v1h-1zM227 267h1v1h-1zM528 267h1v1h-1zM750 267h1v1h-1zM53 268h1v1h-1zM116 268h2v1h-2zM227 268h1v1h-1zM528 268h1v1h-1zM750 268h1v1h-1zM54 269h1v1h-1zM114 269h2v1h-2zM228 269h1v1h-1zM527 269h1v1h-1zM751 269h1v1h-1zM55 270h2v1h-2zM112 270h2v1h-2zM228 270h1v1h-1zM526 270h1v1h-1zM751 270h1v1h-1zM57 271h1v1h-1zM110 271h2v1h-2zM229 271h1v1h-1zM526 271h1v1h-1zM752 271h1v1h-1zM58 272h1v1h-1zM108 272h2v1h-2zM229 272h1v1h-1zM525 272h1v1h-1zM752 272h1v1h-1zM59 273h2v1h-2zM106 273h2v1h-2zM230 273h1v1h-1zM524 273h1v1h-1zM753 273h1v1h-1zM61 274h2v1h-2zM104 274h2v1h-2zM230 274h1v1h-1zM523 274h1v1h-1zM754 274h1v1h-1zM63 275h2v1h-2zM102 275h2v1h-2zM231 275h1v1h-1zM523 275h1v1h-1zM754 275h1v1h-1zM65 276h3v1h-3zM91 276h11v1h-11zM231 276h1v1h-1zM396 276h2v1h-2zM522 276h1v1h-1zM755 276h1v1h-1zM68 277h3v1h-3zM87 277h4v1h-4zM232 277h1v1h-1zM393 277h3v1h-3zM398 277h2v1h-2zM521 277h1v1h-1zM755 277h1v1h-1zM71 278h4v1h-4zM81 278h6v1h-6zM232 278h1v1h-1zM391 278h2v1h-2zM400 278h1v1h-1zM520 278h1v1h-1zM756 278h1v1h-1zM75 279h6v1h-6zM233 279h1v1h-1zM389 279h2v1h-2zM401 279h2v1h-2zM519 279h1v1h-1zM756 279h1v1h-1zM233 280h1v1h-1zM387 280h2v1h-2zM403 280h2v1h-2zM519 280h1v1h-1zM757 280h1v1h-1zM234 281h1v1h-1zM385 281h2v1h-2zM405 281h1v1h-1zM518 281h1v1h-1zM758 281h1v1h-1zM234 282h1v1h-1zM384 282h1v1h-1zM406 282h2v1h-2zM517 282h1v1h-1zM758 282h1v1h-1zM235 283h1v1h-1zM382 283h2v1h-2zM408 283h1v1h-1zM515 283h2v1h-2zM759 283h1v1h-1zM235 284h1v1h-1zM379 284h3v1h-3zM409 284h2v1h-2zM513 284h2v1h-2zM759 284h1v1h-1zM236 285h1v1h-1zM375 285h4v1h-4zM411 285h2v1h-2zM512 285h1v1h-1zM760 285h1v1h-1zM236 286h1v1h-1zM371 286h4v1h-4zM413 286h2v1h-2zM510 286h2v1h-2zM760 286h1v1h-1zM237 287h1v1h-1zM367 287h4v1h-4zM415 287h2v1h-2zM509 287h1v1h-1zM761 287h1v1h-1zM237 288h1v1h-1zM357 288h10v1h-10zM417 288h3v1h-3zM507 288h2v1h-2zM761 288h1v1h-1zM238 289h1v1h-1zM355 289h2v1h-2zM420 289h3v1h-3zM506 289h1v1h-1zM762 289h1v1h-1zM239 290h1v1h-1zM354 290h1v1h-1zM423 290h2v1h-2zM505 290h1v1h-1zM762 290h1v1h-1zM240 291h1v1h-1zM353 291h1v1h-1zM425 291h3v1h-3zM503 291h2v1h-2zM763 291h1v1h-1zM241 292h1v1h-1zM351 292h2v1h-2zM428 292h3v1h-3zM502 292h1v1h-1zM763 292h1v1h-1zM242 293h1v1h-1zM350 293h1v1h-1zM431 293h2v1h-2zM501 293h1v1h-1zM764 293h1v1h-1zM243 294h1v1h-1zM348 294h2v1h-2zM433 294h3v1h-3zM500 294h1v1h-1zM764 294h1v1h-1zM244 295h1v1h-1zM345 295h3v1h-3zM436 295h2v1h-2zM499 295h1v1h-1zM765 295h1v1h-1zM245 296h1v1h-1zM343 296h2v1h-2zM438 296h1v1h-1zM498 296h1v1h-1zM766 296h1v1h-1zM246 297h1v1h-1zM340 297h3v1h-3zM439 297h1v1h-1zM497 297h1v1h-1zM766 297h1v1h-1zM247 298h2v1h-2zM337 298h3v1h-3zM439 298h1v1h-1zM496 298h1v1h-1zM767 298h1v1h-1zM249 299h1v1h-1zM335 299h2v1h-2zM440 299h1v1h-1zM495 299h1v1h-1zM767 299h1v1h-1zM250 300h1v1h-1zM331 300h4v1h-4zM441 300h1v1h-1zM494 300h1v1h-1zM768 300h1v1h-1zM251 301h2v1h-2zM327 301h4v1h-4zM442 301h1v1h-1zM493 301h1v1h-1zM769 301h1v1h-1zM253 302h1v1h-1zM321 302h6v1h-6zM443 302h1v1h-1zM491 302h2v1h-2zM769 302h1v1h-1zM254 303h1v1h-1zM317 303h4v1h-4zM443 303h1v1h-1zM489 303h2v1h-2zM770 303h1v1h-1zM255 304h2v1h-2zM315 304h2v1h-2zM444 304h1v1h-1zM488 304h1v1h-1zM771 304h1v1h-1zM257 305h1v1h-1zM313 305h2v1h-2zM445 305h1v1h-1zM486 305h2v1h-2zM771 305h1v1h-1zM258 306h1v1h-1zM312 306h1v1h-1zM446 306h1v1h-1zM484 306h2v1h-2zM772 306h1v1h-1zM259 307h2v1h-2zM310 307h2v1h-2zM447 307h1v1h-1zM482 307h2v1h-2zM772 307h1v1h-1zM972 307h1v1h-1zM261 308h2v1h-2zM299 308h11v1h-11zM448 308h1v1h-1zM480 308h2v1h-2zM773 308h2v1h-2zM971 308h1v1h-1zM263 309h2v1h-2zM295 309h4v1h-4zM449 309h2v1h-2zM478 309h2v1h-2zM775 309h2v1h-2zM969 309h2v1h-2zM265 310h3v1h-3zM292 310h3v1h-3zM451 310h1v1h-1zM473 310h5v1h-5zM777 310h3v1h-3zM968 310h1v1h-1zM268 311h3v1h-3zM289 311h3v1h-3zM452 311h1v1h-1zM467 311h6v1h-6zM780 311h3v1h-3zM967 311h1v1h-1zM271 312h4v1h-4zM287 312h2v1h-2zM453 312h4v1h-4zM463 312h4v1h-4zM783 312h2v1h-2zM966 312h1v1h-1zM275 313h12v1h-12zM457 313h6v1h-6zM785 313h3v1h-3zM965 313h1v1h-1zM788 314h2v1h-2zM964 314h1v1h-1zM790 315h1v1h-1zM963 315h1v1h-1zM791 316h2v1h-2zM961 316h2v1h-2zM793 317h1v1h-1zM960 317h1v1h-1zM794 318h1v1h-1zM959 318h1v1h-1zM795 319h2v1h-2zM958 319h1v1h-1zM797 320h1v1h-1zM957 320h1v1h-1zM798 321h1v1h-1zM956 321h1v1h-1zM799 322h2v1h-2zM955 322h1v1h-1zM801 323h1v1h-1zM954 323h1v1h-1zM802 324h1v1h-1zM953 324h1v1h-1zM803 325h2v1h-2zM952 325h1v1h-1zM805 326h1v1h-1zM951 326h1v1h-1zM806 327h1v1h-1zM950 327h1v1h-1zM807 328h2v1h-2zM949 328h1v1h-1zM809 329h1v1h-1zM948 329h1v1h-1zM810 330h1v1h-1zM947 330h1v1h-1zM811 331h2v1h-2zM946 331h1v1h-1zM813 332h1v1h-1zM945 332h1v1h-1zM814 333h2v1h-2zM944 333h1v1h-1zM816 334h1v1h-1zM943 334h1v1h-1zM817 335h2v1h-2zM942 335h1v1h-1zM819 336h2v1h-2zM940 336h2v1h-2zM821 337h1v1h-1zM938 337h2v1h-2zM822 338h1v1h-1zM867 338h14v1h-14zM936 338h2v1h-2zM823 339h1v1h-1zM863 339h4v1h-4zM881 339h6v1h-6zM934 339h2v1h-2zM824 340h1v1h-1zM860 340h3v1h-3zM887 340h2v1h-2zM933 340h1v1h-1zM825 341h1v1h-1zM857 341h3v1h-3zM889 341h3v1h-3zM931 341h2v1h-2zM825 342h1v1h-1zM855 342h2v1h-2zM892 342h2v1h-2zM929 342h2v1h-2zM826 343h1v1h-1zM853 343h2v1h-2zM894 343h2v1h-2zM928 343h1v1h-1zM827 344h1v1h-1zM851 344h2v1h-2zM896 344h2v1h-2zM926 344h2v1h-2zM828 345h1v1h-1zM849 345h2v1h-2zM898 345h2v1h-2zM924 345h2v1h-2zM829 346h1v1h-1zM848 346h1v1h-1zM900 346h3v1h-3zM921 346h3v1h-3zM830 347h1v1h-1zM846 347h2v1h-2zM903 347h2v1h-2zM919 347h2v1h-2zM831 348h1v1h-1zM845 348h1v1h-1zM905 348h3v1h-3zM913 348h6v1h-6zM832 349h1v1h-1zM843 349h2v1h-2zM908 349h5v1h-5zM833 350h2v1h-2zM841 350h2v1h-2zM835 351h1v1h-1zM840 351h1v1h-1zM836 352h1v1h-1zM838 352h2v1h-2zM837 353h1v1h-1z" fill="#3cb371"/>
<rect x="5" y="159" width="1" height="53" fill="#32cd32"/>
<rect x="3" y="173" width="5" height="25" fill="#32cd32"/>
<rect x="13" y="169" width="1" height="52" fill="#ff0000"/>
<rect x="11" y="188" width="5" height="10" fill="#ff0000"/>
<rect x="12" y="189" width="3" height="8" fill="#ff4500"/>
<rect x="21" y="174" width="1" height="32" fill="#ff0000"/>
<rect x="19" y="185" width="5" height="4" fill="#ff0000"/>
<rect x="20" y="186" width="3" height="2" fill="#ff4500"/>
<rect x="29" y="179" width="1" height="53" fill="#32cd32"/>
<rect x="27" y="184" width="5" height="44" fill="#32cd32"/>
<rect x="37" y="226" width="1" height="25" fill="#32cd32"/>
<rect x="35" y="226" width="5" height="18" fill="#32cd32"/>
<rect x="45" y="228" width="1" height="23" fill="#ff0000"/>
<rect x="43" y="237" width="5" height="7" fill="#ff0000"/>
<rect x="44" y="238" width="3" height="5" fill="#ff4500"/>
<rect x="53" y="230" width="1" height="30" fill="#32cd32"/>
<rect x="51" y="237" width="5" height="11" fill="#32cd32"/>
<rect x="61" y="135" width="1" height="120" fill="#ff0000"/>
<rect x="59" y="210" width="5" height="38" fill="#ff0000"/>
<rect x="60" y="211" width="3" height="36" fill="#ff4500"/>
<rect x="69" y="163" width="1" height="47" fill="#ff0000"/>
<rect x="67" y="188" width="5" height="22" fill="#ff0000"/>
<rect x="68" y="189" width="3" height="20" fill="#ff4500"/>
<rect x="77" y="171" width="1" height="33" fill="#32cd32"/>
<rect x="75" y="188" width="5" height="10" fill="#32cd32"/>
<rect x="85" y="197" width="1" height="17" fill="#32cd32"/>
<rect x="83" y="197" width="5" height="9" fill="#32cd32"/>
<rect x="93" y="185" width="1" height="37" fill="#ff0000"/>
<rect x="91" y="193" width="5" height="24" fill="#ff0000"/>
<rect x="92" y="194" width="3" height="22" fill="#ff4500"/>
<rect x="101" y="168" width="1" height="53" fill="#ff0000"/>
<rect x="99" y="170" width="5" height="24" fill="#ff0000"/>
<rect x="100" y="171" width="3" height="22" fill="#ff4500"/>
<rect x="109" y="132" width="1" height="49" fill="#ff0000"/>
<rect x="107" y="133" width="5" height="38" fill="#ff0000"/>
<rect x="108" y="134" width="3" height="36" fill="#ff4500"/>
<rect x="117" y="122" width="1" height="25" fill="#ff0000"/>
<rect x="115" y="132" width="5" height="3" fill="#ff0000"/>
<rect x="116" y="133" width="3" height="1" fill="#ff4500"/>
<rect x="125" y="118" width="1" height="23" fill="#ff0000"/>
<rect x="123" y="131" width="5" height="2" fill="#ff0000"/>
<rect x="133" y="125" width="1" height="8" fill="#ff0000"/>
<rect x="131" y="127" width="5" height="5" fill="#ff0000"/>
<rect x="132" y="128" width="3" height="3" fill="#ff4500"/>
<rect x="141" y="128" width="1" height="20" fill="#32cd32"/>
<rect x="139" y="135" width="5" height="6" fill="#32cd32"/>
<rect x="149" y="140" width="1" height="19" fill="#32cd32"/>
<rect x="147" y="140" width="5" height="10" fill="#32cd32"/>
<rect x="157" y="127" width="1" height="29" fill="#ff0000"/>
<rect x="155" y="143" width="5" height="6" fill="#ff0000"/>
<rect x="156" y="144" width="3" height="4" fill="#ff4500"/>
<rect x="165" y="118" width="1" height="59" fill="#32cd32"/>
<rect x="163" y="143" width="5" height="29" fill="#32cd32"/>
<rect x="173" y="155" width="1" height="27" fill="#ff0000"/>
<rect x="171" y="158" width="5" height="14" fill="#ff0000"/>
<rect x="172" y="159" width="3" height="12" fill="#ff4500"/>
<rect x="181" y="156" width="1" height="13" fill="#32cd32"/>
<rect x="179" y="158" width="5" height="10" fill="#32cd32"/>
<rect x="189" y="161" width="1" height="18" fill="#32cd32"/>
<rect x="187" y="163" width="5" height="6" fill="#32cd32"/>
<rect x="197" y="157" width="1" height="52" fill="#32cd32"/>
<rect x="195" y="168" width="5" height="16" fill="#32cd32"/>
<rect x="205" y="181" width="1" height="46" fill="#32cd32"/>
<rect x="203" y="183" width="5" height="42" fill="#32cd32"/>
<rect x="213" y="223" width="1" height="49" fill="#32cd32"/>
<rect x="211" y="224" width="5" height="42" fill="#32cd32"/>
<rect x="221" y="258" width="1" height="27" fill="#32cd32"/>
<rect x="219" y="264" width="5" height="21" fill="#32cd32"/>
<rect x="229" y="281" width="1" height="7" fill="#ff0000"/>
<rect x="227" y="282" width="5" height="3" fill="#ff0000"/>
<rect x="228" y="283" width="3" height="1" fill="#ff4500"/>
<rect x="237" y="264" width="1" height="25" fill="#ff0000"/>
<rect x="235" y="274" width="5" height="7" fill="#ff0000"/>
<rect x="236" y="275" width="3" height="5" fill="#ff4500"/>
<rect x="245" y="253" width="1" height="28" fill="#ff0000"/>
<rect x="243" y="255" width="5" height="20" fill="#ff0000"/>
<rect x="244" y="256" width="3" height="18" fill="#ff4500"/>
<rect x="253" y="229" width="1" height="31" fill="#ff0000"/>
<rect x="251" y="250" width="5" height="6" fill="#ff0000"/>
<rect x="252" y="251" width="3" height="4" fill="#ff4500"/>
<rect x="261" y="230" width="1" height="58" fill="#ff0000"/>
<rect x="259" y="241" width="5" height="10" fill="#ff0000"/>
<rect x="260" y="242" width="3" height="8" fill="#ff4500"/>
<rect x="269" y="223" width="1" height="26" fill="#ff0000"/>
<rect x="267" y="239" width="5" height="3" fill="#ff0000"/>
<rect x="268" y="240" width="3" height="1" fill="#ff4500"/>
<rect x="277" y="237" width="1" height="12" fill="#32cd32"/>
<rect x="275" y="239" width="5" height="7" fill="#32cd32"/>
<rect x="285" y="217" width="1" height="34" fill="#ff0000"/>
<rect x="283" y="221" width="5" height="25" fill="#ff0000"/>
<rect x="284" y="222" width="3" height="23" fill="#ff4500"/>
<rect x="293" y="214" width="1" height="28" fill="#32cd32"/>
<rect x="291" y="221" width="5" height="3" fill="#32cd32"/>
<rect x="301" y="209" width="1" height="34" fill="#32cd32"/>
<rect x="299" y="223" width="5" height="7" fill="#32cd32"/>
<rect x="309" y="215" width="1" height="32" fill="#32cd32"/>
<rect x="307" y="229" width="5" height="10" fill="#32cd32"/>
<rect x="317" y="216" width="1" height="42" fill="#ff0000"/>
<rect x="315" y="228" width="5" height="11" fill="#ff0000"/>
<rect x="316" y="229" width="3" height="9" fill="#ff4500"/>
<rect x="325" y="227" width="1" height="12" fill="#32cd32"/>
<rect x="323" y="228" width="5" height="10" fill="#32cd32"/>
<rect x="333" y="233" width="1" height="29" fill="#32cd32"/>
<rect x="331" y="241" width="5" height="19" fill="#32cd32"/>
<rect x="341" y="256" width="1" height="24" fill="#32cd32"/>
<rect x="339" y="259" width="5" height="10" fill="#32cd32"/>
<rect x="349" y="246" width="1" height="26" fill="#32cd32"/>
<rect x="347" y="268" width="5" height="1" fill="#32cd32"/>
<rect x="357" y="250" width="1" height="29" fill="#ff0000"/>
<rect x="355" y="260" width="5" height="9" fill="#ff0000"/>
<rect x="356" y="261" width="3" height="7" fill="#ff4500"/>
<rect x="365" y="257" width="1" height="46" fill="#ff0000"/>
<rect x="363" y="259" width="5" height="2" fill="#ff0000"/>
<rect x="373" y="247" width="1" height="13" fill="#ff0000"/>
<rect x="371" y="254" width="5" height="6" fill="#ff0000"/>
<rect x="372" y="255" width="3" height="4" fill="#ff4500"/>
<rect x="381" y="243" width="1" height="25" fill="#32cd32"/>
<rect x="379" y="251" width="5" height="17" fill="#32cd32"/>
<rect x="389" y="234" width="1" height="49" fill="#ff0000"/>
<rect x="387" y="242" width="5" height="26" fill="#ff0000"/>
<rect x="388" y="243" width="3" height="24" fill="#ff4500"/>
<rect x="397" y="238" width="1" height="31" fill="#32cd32"/>
<rect x="395" y="242" width="5" height="16" fill="#32cd32"/>
<rect x="405" y="176" width="1" height="96" fill="#ff0000"/>
<rect x="403" y="190" width="5" height="66" fill="#ff0000"/>
<rect x="404" y="191" width="3" height="64" fill="#ff4500"/>
<rect x="413" y="143" width="1" height="49" fill="#ff0000"/>
<rect x="411" y="183" width="5" height="8" fill="#ff0000"/>
<rect x="412" y="184" width="3" height="6" fill="#ff4500"/>
<rect x="421" y="182" width="1" height="13" fill="#32cd32"/>
<rect x="419" y="183" width="5" height="7" fill="#32cd32"/>
<rect x="429" y="172" width="1" height="23" fill="#ff0000"/>
<rect x="427" y="178" width="5" height="12" fill="#ff0000"/>
<rect x="428" y="179" width="3" height="10" fill="#ff4500"/>
<rect x="437" y="155" width="1" height="32" fill="#ff0000"/>
<rect x="435" y="164" width="5" height="15" fill="#ff0000"/>
<rect x="436" y="165" width="3" height="13" fill="#ff4500"/>
<rect x="445" y="115" width="1" height="60" fill="#ff0000"/>
<rect x="443" y="128" width="5" height="37" fill="#ff0000"/>
<rect x="444" y="129" width="3" height="35" fill="#ff4500"/>
<rect x="453" y="114" width="1" height="26" fill="#ff0000"/>
<rect x="451" y="121" width="5" height="8" fill="#ff0000"/>
<rect x="452" y="122" width="3" height="6" fill="#ff4500"/>
<rect x="461" y="118" width="1" height="43" fill="#32cd32"/>
<rect x="459" y="121" width="5" height="30" fill="#32cd32"/>
<rect x="469" y="149" width="1" height="21" fill="#32cd32"/>
<rect x="467" y="150" width="5" height="16" fill="#32cd32"/>
<rect x="477" y="157" width="1" height="35" fill="#32cd32"/>
<rect x="475" y="172" width="5" height="10" fill="#32cd32"/>
<rect x="485" y="170" width="1" height="37" fill="#ff0000"/>
<rect x="483" y="177" width="5" height="5" fill="#ff0000"/>
<rect x="484" y="178" width="3" height="3" fill="#ff4500"/>
<rect x="493" y="157" width="1" height="34" fill="#ff0000"/>
<rect x="491" y="170" width="5" height="8" fill="#ff0000"/>
<rect x="492" y="171" width="3" height="6" fill="#ff4500"/>
<rect x="501" y="116" width="1" height="61" fill="#ff0000"/>
<rect x="499" y="143" width="5" height="28" fill="#ff0000"/>
<rect x="500" y="144" width="3" height="26" fill="#ff4500"/>
<rect x="509" y="102" width="1" height="48" fill="#ff0000"/>
<rect x="507" y="107" width="5" height="37" fill="#ff0000"/>
<rect x="508" y="108" width="3" height="35" fill="#ff4500"/>
<rect x="517" y="92" width="1" height="19" fill="#ff0000"/>
<rect x="515" y="95" width="5" height="13" fill="#ff0000"/>
<rect x="516" y="96" width="3" height="11" fill="#ff4500"/>
<rect x="525" y="98" width="1" height="28" fill="#32cd32"/>
<rect x="523" y="107" width="5" height="9" fill="#32cd32"/>
<rect x="533" y="113" width="1" height="49" fill="#32cd32"/>
<rect x="531" y="115" width="5" height="28" fill="#32cd32"/>
<rect x="541" y="131" width="1" height="50" fill="#ff0000"/>
<rect x="539" y="141" width="5" height="3" fill="#ff0000"/>
<rect x="540" y="142" width="3" height="1" fill="#ff4500"/>
<rect x="549" y="131" width="1" height="29" fill="#32cd32"/>
<rect x="547" y="141" width="5" height="11" fill="#32cd32"/>
<rect x="557" y="143" width="1" height="28" fill="#32cd32"/>
<rect x="555" y="151" width="5" height="14" fill="#32cd32"/>
<rect x="565" y="159" width="1" height="10" fill="#32cd32"/>
<rect x="563" y="164" width="5" height="2" fill="#32cd32"/>
<rect x="573" y="131" width="1" height="36" fill="#ff0000"/>
<rect x="571" y="159" width="5" height="1" fill="#ff0000"/>
<rect x="581" y="136" width="1" height="39" fill="#32cd32"/>
<rect x="579" y="160" width="5" height="9" fill="#32cd32"/>
<rect x="589" y="151" width="1" height="33" fill="#ff0000"/>
<rect x="587" y="167" width="5" height="2" fill="#ff0000"/>
<rect x="597" y="85" width="1" height="84" fill="#ff0000"/>
<rect x="595" y="106" width="5" height="63" fill="#ff0000"/>
<rect x="596" y="107" width="3" height="61" fill="#ff4500"/>
<rect x="605" y="96" width="1" height="30" fill="#32cd32"/>
<rect x="603" y="106" width="5" height="8" fill="#32cd32"/>
<rect x="613" y="105" width="1" height="16" fill="#32cd32"/>
<rect x="611" y="113" width="5" height="1" fill="#32cd32"/>
<rect x="621" y="53" width="1" height="30" fill="#32cd32"/>
<rect x="619" y="74" width="5" height="4" fill="#32cd32"/>
<rect x="629" y="53" width="1" height="32" fill="#32cd32"/>
<rect x="627" y="77" width="5" height="3" fill="#32cd32"/>
<rect x="637" y="74" width="1" height="69" fill="#32cd32"/>
<rect x="635" y="79" width="5" height="58" fill="#32cd32"/>
<rect x="645" y="132" width="1" height="56" fill="#32cd32"/>
<rect x="643" y="136" width="5" height="39" fill="#32cd32"/>
<rect x="653" y="154" width="1" height="26" fill="#ff0000"/>
<rect x="651" y="171" width="5" height="4" fill="#ff0000"/>
<rect x="652" y="172" width="3" height="2" fill="#ff4500"/>
<rect x="661" y="168" width="1" height="16" fill="#32cd32"/>
<rect x="659" y="171" width="5" height="6" fill="#32cd32"/>
<rect x="669" y="164" width="1" height="34" fill="#32cd32"/>
<rect x="667" y="191" width="5" height="3" fill="#32cd32"/>
<rect x="677" y="166" width="1" height="30" fill="#ff0000"/>
<rect x="675" y="181" width="5" height="13" fill="#ff0000"/>
<rect x="676" y="182" width="3" height="11" fill="#ff4500"/>
<rect x="685" y="162" width="1" height="26" fill="#ff0000"/>
<rect x="683" y="164" width="5" height="18" fill="#ff0000"/>
<rect x="684" y="165" width="3" height="16" fill="#ff4500"/>
<rect x="693" y="153" width="1" height="24" fill="#32cd32"/>
<rect x="691" y="165" width="5" height="1" fill="#32cd32"/>
<rect x="701" y="159" width="1" height="57" fill="#32cd32"/>
<rect x="699" y="164" width="5" height="39" fill="#32cd32"/>
<rect x="709" y="195" width="1" height="8" fill="#ff0000"/>
<rect x="707" y="197" width="5" height="6" fill="#ff0000"/>
<rect x="708" y="198" width="3" height="4" fill="#ff4500"/>
<rect x="717" y="192" width="1" height="12" fill="#ff0000"/>
<rect x="715" y="195" width="5" height="6" fill="#ff0000"/>
<rect x="716" y="196" width="3" height="4" fill="#ff4500"/>
<rect x="725" y="180" width="1" height="23" fill="#32cd32"/>
<rect x="723" y="195" width="5" height="7" fill="#32cd32"/>
<rect x="733" y="182" width="1" height="25" fill="#ff0000"/>
<rect x="731" y="198" width="5" height="4" fill="#ff0000"/>
<rect x="732" y="199" width="3" height="2" fill="#ff4500"/>
<rect x="741" y="194" width="1" height="66" fill="#32cd32"/>
<rect x="739" y="198" width="5" height="45" fill="#32cd32"/>
<rect x="749" y="233" width="1" height="35" fill="#32cd32"/>
<rect x="747" y="242" width="5" height="22" fill="#32cd32"/>
<rect x="757" y="259" width="1" height="30" fill="#32cd32"/>
<rect x="755" y="262" width="5" height="25" fill="#32cd32"/>
<rect x="765" y="270" width="1" height="22" fill="#ff0000"/>
<rect x="763" y="284" width="5" height="8" fill="#ff0000"/>
<rect x="764" y="285" width="3" height="6" fill="#ff4500"/>
<rect x="773" y="277" width="1" height="16" fill="#32cd32"/>
<rect x="771" y="284" width="5" height="7" fill="#32cd32"/>
<rect x="781" y="272" width="1" height="24" fill="#ff0000"/>
<rect x="779" y="281" width="5" height="10" fill="#ff0000"/>
<rect x="780" y="282" width="3" height="8" fill="#ff4500"/>
<rect x="789" y="264" width="1" height="42" fill="#32cd32"/>
<rect x="787" y="281" width="5" height="19" fill="#32cd32"/>
<rect x="797" y="270" width="1" height="36" fill="#ff0000"/>
<rect x="795" y="291" width="5" height="9" fill="#ff0000"/>
<rect x="796" y="292" width="3" height="7" fill="#ff4500"/>
<rect x="805" y="284" width="1" height="9" fill="#ff0000"/>
<rect x="803" y="285" width="5" height="7" fill="#ff0000"/>
<rect x="804" y="286" width="3" height="5" fill="#ff4500"/>
<rect x="813" y="269" width="1" height="22" fill="#32cd32"/>
<rect x="811" y="288" width="5" height="3" fill="#32cd32"/>
<rect x="821" y="279" width="1" height="16" fill="#32cd32"/>
<rect x="819" y="290" width="5" height="1" fill="#32cd32"/>
<rect x="829" y="283" width="1" height="45" fill="#32cd32"/>
<rect x="827" y="288" width="5" height="30" fill="#32cd32"/>
<rect x="837" y="309" width="1" height="121" fill="#32cd32"/>
<rect x="835" y="317" width="5" height="3" fill="#32cd32"/>
<rect x="845" y="246" width="1" height="79" fill="#ff0000"/>
<rect x="843" y="246" width="5" height="74" fill="#ff0000"/>
<rect x="844" y="247" width="3" height="72" fill="#ff4500"/>
<rect x="853" y="233" width="1" height="21" fill="#ff0000"/>
<rect x="851" y="238" width="5" height="8" fill="#ff0000"/>
<rect x="852" y="239" width="3" height="6" fill="#ff4500"/>
<rect x="861" y="221" width="1" height="19" fill="#ff0000"/>
<rect x="859" y="224" width="5" height="15" fill="#ff0000"/>
<rect x="860" y="225" width="3" height="13" fill="#ff4500"/>
<rect x="869" y="216" width="1" height="23" fill="#32cd32"/>
<rect x="867" y="225" width="5" height="6" fill="#32cd32"/>
<rect x="877" y="186" width="1" height="47" fill="#ff0000"/>
<rect x="875" y="205" width="5" height="26" fill="#ff0000"/>
<rect x="876" y="206" width="3" height="24" fill="#ff4500"/>
<rect x="885" y="184" width="1" height="35" fill="#ff0000"/>
<rect x="883" y="188" width="5" height="18" fill="#ff0000"/>
<rect x="884" y="189" width="3" height="16" fill="#ff4500"/>
<rect x="893" y="159" width="1" height="43" fill="#ff0000"/>
<rect x="891" y="182" width="5" height="6" fill="#ff0000"/>
<rect x="892" y="183" width="3" height="4" fill="#ff4500"/>
<rect x="901" y="175" width="1" height="11" fill="#ff0000"/>
<rect x="899" y="178" width="5" height="4" fill="#ff0000"/>
<rect x="900" y="179" width="3" height="2" fill="#ff4500"/>
<rect x="909" y="170" width="1" height="30" fill="#32cd32"/>
<rect x="907" y="176" width="5" height="4" fill="#32cd32"/>
<rect x="917" y="165" width="1" height="27" fill="#32cd32"/>
<rect x="915" y="179" width="5" height="2" fill="#32cd32"/>
<rect x="925" y="174" width="1" height="35" fill="#32cd32"/>
<rect x="923" y="180" width="5" height="16" fill="#32cd32"/>
<rect x="933" y="190" width="1" height="29" fill="#32cd32"/>
<rect x="931" y="195" width="5" height="16" fill="#32cd32"/>
<rect x="941" y="168" width="1" height="43" fill="#ff0000"/>
<rect x="939" y="193" width="5" height="18" fill="#ff0000"/>
<rect x="940" y="194" width="3" height="16" fill="#ff4500"/>
<rect x="949" y="191" width="1" height="15" fill="#32cd32"/>
<rect x="947" y="193" width="5" height="12" fill="#32cd32"/>
<rect x="957" y="195" width="1" height="28" fill="#32cd32"/>
<rect x="955" y="208" width="5" height="6" fill="#32cd32"/>
<rect x="965" y="209" width="1" height="27" fill="#32cd32"/>
<rect x="963" y="213" width="5" height="13" fill="#32cd32"/>
<rect x="973" y="221" width="1" height="19" fill="#32cd32"/>
<rect x="971" y="224" width="5" height="9" fill="#32cd32"/>
<rect x="689" y="151" width="371" height="2" fill="#ff2a2a"/>
<rect x="742" y="241" width="300" height="2" fill="#9acd12"/>
<rect x="746" y="312" width="307" height="2" fill="#2a86e0"/>
</g>
<g clip-path="url(#cr)">
<line x1="5" y1="481.5" x2="1230" y2="481.5" stroke="#c0c0c0" stroke-dasharray="3,3"/>
<line x1="5" y1="533.5" x2="1230" y2="533.5" stroke="#c0c0c0" stroke-dasharray="3,3"/>
<path d="M449 479h5v1h-5zM445 480h4v1h-4zM454 480h1v1h-1zM444 481h1v1h-1zM454 481h1v1h-1zM443 482h1v1h-1zM455 482h1v1h-1zM515 482h3v1h-3zM442 483h1v1h-1zM456 483h1v1h-1zM511 483h4v1h-4zM518 483h1v1h-1zM441 484h1v1h-1zM457 484h1v1h-1zM509 484h2v1h-2zM519 484h1v1h-1zM440 485h1v1h-1zM457 485h1v1h-1zM508 485h1v1h-1zM520 485h1v1h-1zM621 485h4v1h-4zM439 486h1v1h-1zM458 486h1v1h-1zM507 486h1v1h-1zM521 486h1v1h-1zM620 486h1v1h-1zM625 486h5v1h-5zM438 487h1v1h-1zM459 487h1v1h-1zM506 487h1v1h-1zM522 487h1v1h-1zM619 487h1v1h-1zM629 487h1v1h-1zM436 488h2v1h-2zM460 488h1v1h-1zM505 488h1v1h-1zM523 488h1v1h-1zM618 488h1v1h-1zM630 488h1v1h-1zM433 489h3v1h-3zM460 489h1v1h-1zM504 489h1v1h-1zM524 489h1v1h-1zM617 489h1v1h-1zM630 489h1v1h-1zM431 490h2v1h-2zM461 490h1v1h-1zM503 490h1v1h-1zM525 490h1v1h-1zM597 490h2v1h-2zM616 490h1v1h-1zM631 490h1v1h-1zM897 490h8v1h-8zM428 491h3v1h-3zM462 491h1v1h-1zM502 491h1v1h-1zM526 491h1v1h-1zM597 491h1v1h-1zM599 491h2v1h-2zM615 491h1v1h-1zM631 491h1v1h-1zM891 491h6v1h-6zM905 491h13v1h-13zM411 492h4v1h-4zM425 492h3v1h-3zM463 492h2v1h-2zM501 492h1v1h-1zM527 492h1v1h-1zM596 492h1v1h-1zM601 492h3v1h-3zM614 492h1v1h-1zM632 492h1v1h-1zM887 492h4v1h-4zM918 492h1v1h-1zM407 493h4v1h-4zM415 493h4v1h-4zM423 493h2v1h-2zM465 493h1v1h-1zM500 493h1v1h-1zM528 493h1v1h-1zM596 493h1v1h-1zM604 493h10v1h-10zM632 493h1v1h-1zM884 493h3v1h-3zM919 493h1v1h-1zM405 494h2v1h-2zM419 494h4v1h-4zM466 494h1v1h-1zM499 494h1v1h-1zM529 494h1v1h-1zM595 494h1v1h-1zM632 494h1v1h-1zM881 494h3v1h-3zM920 494h1v1h-1zM405 495h1v1h-1zM467 495h2v1h-2zM497 495h2v1h-2zM529 495h1v1h-1zM595 495h1v1h-1zM633 495h1v1h-1zM879 495h2v1h-2zM921 495h2v1h-2zM404 496h1v1h-1zM469 496h1v1h-1zM496 496h1v1h-1zM530 496h1v1h-1zM594 496h1v1h-1zM633 496h1v1h-1zM877 496h2v1h-2zM923 496h1v1h-1zM404 497h1v1h-1zM470 497h1v1h-1zM495 497h1v1h-1zM531 497h1v1h-1zM594 497h1v1h-1zM634 497h1v1h-1zM876 497h1v1h-1zM924 497h1v1h-1zM404 498h1v1h-1zM471 498h2v1h-2zM494 498h1v1h-1zM532 498h1v1h-1zM593 498h1v1h-1zM634 498h1v1h-1zM875 498h1v1h-1zM925 498h1v1h-1zM941 498h1v1h-1zM129 499h5v1h-5zM403 499h1v1h-1zM473 499h1v1h-1zM491 499h3v1h-3zM533 499h10v1h-10zM593 499h1v1h-1zM634 499h1v1h-1zM874 499h1v1h-1zM926 499h1v1h-1zM939 499h2v1h-2zM942 499h2v1h-2zM113 500h16v1h-16zM134 500h2v1h-2zM403 500h1v1h-1zM474 500h1v1h-1zM487 500h4v1h-4zM543 500h2v1h-2zM593 500h1v1h-1zM635 500h1v1h-1zM873 500h1v1h-1zM927 500h2v1h-2zM938 500h1v1h-1zM944 500h1v1h-1zM109 501h4v1h-4zM136 501h2v1h-2zM402 501h1v1h-1zM475 501h2v1h-2zM481 501h6v1h-6zM545 501h3v1h-3zM592 501h1v1h-1zM635 501h1v1h-1zM872 501h1v1h-1zM929 501h1v1h-1zM937 501h1v1h-1zM945 501h2v1h-2zM108 502h1v1h-1zM138 502h2v1h-2zM402 502h1v1h-1zM477 502h4v1h-4zM548 502h2v1h-2zM592 502h1v1h-1zM636 502h1v1h-1zM860 502h3v1h-3zM871 502h1v1h-1zM930 502h1v1h-1zM935 502h2v1h-2zM947 502h2v1h-2zM107 503h1v1h-1zM140 503h3v1h-3zM402 503h1v1h-1zM550 503h2v1h-2zM591 503h1v1h-1zM636 503h1v1h-1zM858 503h2v1h-2zM863 503h4v1h-4zM870 503h1v1h-1zM931 503h2v1h-2zM934 503h1v1h-1zM949 503h2v1h-2zM106 504h1v1h-1zM143 504h2v1h-2zM155 504h3v1h-3zM401 504h1v1h-1zM552 504h2v1h-2zM591 504h1v1h-1zM637 504h1v1h-1zM856 504h2v1h-2zM867 504h3v1h-3zM933 504h1v1h-1zM951 504h2v1h-2zM105 505h1v1h-1zM145 505h3v1h-3zM151 505h4v1h-4zM158 505h1v1h-1zM401 505h1v1h-1zM554 505h2v1h-2zM569 505h6v1h-6zM590 505h1v1h-1zM637 505h1v1h-1zM854 505h2v1h-2zM953 505h3v1h-3zM104 506h1v1h-1zM148 506h3v1h-3zM159 506h1v1h-1zM401 506h1v1h-1zM556 506h13v1h-13zM575 506h2v1h-2zM590 506h1v1h-1zM638 506h1v1h-1zM851 506h3v1h-3zM956 506h2v1h-2zM103 507h1v1h-1zM160 507h1v1h-1zM400 507h1v1h-1zM577 507h3v1h-3zM589 507h1v1h-1zM639 507h1v1h-1zM847 507h4v1h-4zM958 507h2v1h-2zM102 508h1v1h-1zM161 508h1v1h-1zM172 508h3v1h-3zM400 508h1v1h-1zM580 508h10v1h-10zM639 508h1v1h-1zM845 508h2v1h-2zM960 508h1v1h-1zM101 509h1v1h-1zM162 509h1v1h-1zM170 509h2v1h-2zM175 509h2v1h-2zM400 509h1v1h-1zM640 509h1v1h-1zM845 509h1v1h-1zM961 509h2v1h-2zM99 510h2v1h-2zM163 510h1v1h-1zM168 510h2v1h-2zM177 510h3v1h-3zM389 510h1v1h-1zM399 510h1v1h-1zM641 510h1v1h-1zM685 510h9v1h-9zM844 510h1v1h-1zM963 510h2v1h-2zM98 511h1v1h-1zM164 511h1v1h-1zM166 511h2v1h-2zM180 511h10v1h-10zM285 511h4v1h-4zM388 511h1v1h-1zM390 511h1v1h-1zM399 511h1v1h-1zM642 511h1v1h-1zM683 511h2v1h-2zM694 511h1v1h-1zM844 511h1v1h-1zM965 511h2v1h-2zM97 512h1v1h-1zM165 512h1v1h-1zM190 512h2v1h-2zM284 512h1v1h-1zM289 512h6v1h-6zM388 512h1v1h-1zM391 512h2v1h-2zM398 512h1v1h-1zM643 512h1v1h-1zM681 512h2v1h-2zM695 512h1v1h-1zM844 512h1v1h-1zM967 512h4v1h-4zM95 513h2v1h-2zM192 513h2v1h-2zM283 513h1v1h-1zM295 513h4v1h-4zM316 513h3v1h-3zM387 513h1v1h-1zM393 513h1v1h-1zM398 513h1v1h-1zM643 513h1v1h-1zM680 513h1v1h-1zM695 513h1v1h-1zM844 513h1v1h-1zM971 513h2v1h-2zM94 514h1v1h-1zM194 514h2v1h-2zM282 514h1v1h-1zM299 514h4v1h-4zM314 514h2v1h-2zM319 514h2v1h-2zM386 514h1v1h-1zM394 514h1v1h-1zM398 514h1v1h-1zM644 514h1v1h-1zM649 514h8v1h-8zM678 514h2v1h-2zM696 514h1v1h-1zM843 514h1v1h-1zM69 515h4v1h-4zM92 515h2v1h-2zM196 515h2v1h-2zM281 515h1v1h-1zM303 515h2v1h-2zM312 515h2v1h-2zM321 515h3v1h-3zM386 515h1v1h-1zM395 515h3v1h-3zM645 515h4v1h-4zM657 515h5v1h-5zM676 515h2v1h-2zM697 515h1v1h-1zM843 515h1v1h-1zM67 516h2v1h-2zM73 516h6v1h-6zM89 516h3v1h-3zM198 516h1v1h-1zM281 516h1v1h-1zM305 516h3v1h-3zM310 516h2v1h-2zM324 516h2v1h-2zM385 516h1v1h-1zM397 516h1v1h-1zM662 516h2v1h-2zM674 516h2v1h-2zM698 516h1v1h-1zM843 516h1v1h-1zM65 517h2v1h-2zM79 517h4v1h-4zM87 517h2v1h-2zM199 517h1v1h-1zM280 517h1v1h-1zM308 517h2v1h-2zM326 517h1v1h-1zM384 517h1v1h-1zM664 517h2v1h-2zM672 517h2v1h-2zM699 517h1v1h-1zM713 517h6v1h-6zM843 517h1v1h-1zM64 518h1v1h-1zM83 518h4v1h-4zM199 518h1v1h-1zM279 518h1v1h-1zM327 518h2v1h-2zM371 518h3v1h-3zM384 518h1v1h-1zM666 518h2v1h-2zM670 518h2v1h-2zM699 518h1v1h-1zM707 518h6v1h-6zM719 518h4v1h-4zM729 518h5v1h-5zM842 518h1v1h-1zM62 519h2v1h-2zM200 519h1v1h-1zM265 519h8v1h-8zM278 519h1v1h-1zM329 519h1v1h-1zM367 519h4v1h-4zM374 519h2v1h-2zM383 519h1v1h-1zM668 519h2v1h-2zM700 519h1v1h-1zM703 519h4v1h-4zM723 519h6v1h-6zM734 519h1v1h-1zM842 519h1v1h-1zM61 520h1v1h-1zM201 520h1v1h-1zM260 520h5v1h-5zM273 520h5v1h-5zM330 520h1v1h-1zM361 520h6v1h-6zM376 520h2v1h-2zM382 520h1v1h-1zM701 520h2v1h-2zM735 520h1v1h-1zM842 520h1v1h-1zM60 521h1v1h-1zM202 521h1v1h-1zM257 521h3v1h-3zM331 521h2v1h-2zM356 521h5v1h-5zM378 521h2v1h-2zM382 521h1v1h-1zM735 521h1v1h-1zM841 521h1v1h-1zM17 522h5v1h-5zM59 522h1v1h-1zM203 522h1v1h-1zM255 522h2v1h-2zM333 522h2v1h-2zM354 522h2v1h-2zM380 522h2v1h-2zM736 522h1v1h-1zM841 522h1v1h-1zM11 523h6v1h-6zM22 523h2v1h-2zM59 523h1v1h-1zM203 523h1v1h-1zM251 523h4v1h-4zM335 523h2v1h-2zM352 523h2v1h-2zM737 523h1v1h-1zM841 523h1v1h-1zM7 524h4v1h-4zM24 524h1v1h-1zM58 524h1v1h-1zM204 524h1v1h-1zM247 524h4v1h-4zM337 524h3v1h-3zM350 524h2v1h-2zM738 524h1v1h-1zM841 524h1v1h-1zM5 525h2v1h-2zM25 525h2v1h-2zM57 525h1v1h-1zM205 525h1v1h-1zM245 525h2v1h-2zM340 525h10v1h-10zM739 525h1v1h-1zM840 525h1v1h-1zM27 526h2v1h-2zM56 526h1v1h-1zM206 526h1v1h-1zM244 526h1v1h-1zM739 526h1v1h-1zM840 526h1v1h-1zM29 527h2v1h-2zM55 527h1v1h-1zM207 527h1v1h-1zM243 527h1v1h-1zM740 527h1v1h-1zM840 527h1v1h-1zM31 528h2v1h-2zM55 528h1v1h-1zM208 528h1v1h-1zM241 528h2v1h-2zM741 528h1v1h-1zM839 528h1v1h-1zM33 529h3v1h-3zM41 529h8v1h-8zM54 529h1v1h-1zM209 529h2v1h-2zM240 529h1v1h-1zM742 529h2v1h-2zM804 529h5v1h-5zM839 529h1v1h-1zM36 530h5v1h-5zM49 530h5v1h-5zM211 530h1v1h-1zM239 530h1v1h-1zM744 530h2v1h-2zM801 530h3v1h-3zM809 530h8v1h-8zM839 530h1v1h-1zM212 531h1v1h-1zM238 531h1v1h-1zM746 531h2v1h-2zM799 531h2v1h-2zM817 531h5v1h-5zM839 531h1v1h-1zM213 532h1v1h-1zM236 532h2v1h-2zM748 532h2v1h-2zM781 532h1v1h-1zM796 532h3v1h-3zM822 532h1v1h-1zM838 532h1v1h-1zM214 533h2v1h-2zM233 533h3v1h-3zM750 533h2v1h-2zM779 533h2v1h-2zM782 533h2v1h-2zM794 533h2v1h-2zM823 533h2v1h-2zM838 533h1v1h-1zM216 534h2v1h-2zM231 534h2v1h-2zM752 534h2v1h-2zM777 534h2v1h-2zM784 534h2v1h-2zM792 534h2v1h-2zM825 534h1v1h-1zM838 534h1v1h-1zM218 535h2v1h-2zM225 535h6v1h-6zM754 535h2v1h-2zM776 535h1v1h-1zM786 535h2v1h-2zM790 535h2v1h-2zM826 535h1v1h-1zM838 535h1v1h-1zM220 536h5v1h-5zM756 536h13v1h-13zM774 536h2v1h-2zM788 536h2v1h-2zM827 536h2v1h-2zM837 536h1v1h-1zM769 537h5v1h-5zM829 537h9v1h-9z" fill="#1e90ff"/>
</g>
<g fill="#000">
<rect x="4" y="32" width="1227" height="1"/>
<rect x="4" y="439" width="1227" height="1"/>
<rect x="4" y="32" width="1" height="408"/>
<rect x="1230" y="32" width="1" height="408"/>
<rect x="4" y="441" width="1227" height="1"/>
<rect x="4" y="573" width="1227" height="1"/>
<rect x="4" y="441" width="1" height="133"/>
<rect x="1230" y="441" width="1" height="133"/>
<rect x="1231" y="40" width="2" height="1"/>
<rect x="1231" y="73" width="2" height="1"/>
<rect x="1231" y="106" width="2" height="1"/>
<rect x="1231" y="139" width="2" height="1"/>
<rect x="1231" y="172" width="2" height="1"/>
<rect x="1231" y="205" width="2" height="1"/>
<rect x="1231" y="238" width="2" height="1"/>
<rect x="1231" y="271" width="2" height="1"/>
<rect x="1231" y="304" width="2" height="1"/>
<rect x="1231" y="337" width="2" height="1"/>
<rect x="1231" y="370" width="2" height="1"/>
<rect x="1231" y="403" width="2" height="1"/>
<rect x="1231" y="436" width="2" height="1"/>
<rect x="5" y="574" width="1" height="3"/>
<rect x="69" y="574" width="1" height="3"/>
<rect x="133" y="574" width="1" height="3"/>
<rect x="197" y="574" width="1" height="3"/>
<rect x="261" y="574" width="1" height="3"/>
<rect x="325" y="574" width="1" height="3"/>
<rect x="389" y="574" width="1" height="3"/>
<rect x="453" y="574" width="1" height="3"/>
<rect x="517" y="574" width="1" height="3"/>
<rect x="581" y="574" width="1" height="3"/>
<rect x="645" y="574" width="1" height="3"/>
<rect x="709" y="574" width="1" height="3"/>
<rect x="773" y="574" width="1" height="3"/>
<rect x="837" y="574" width="1" height="3"/>
<rect x="901" y="574" width="1" height="3"/>
<rect x="965" y="574" width="1" height="3"/>
<rect x="1231" y="443" width="1" height="1"/>
<rect x="1231" y="571" width="1" height="1"/>
</g>
<polygon points="8,43 11.5,38.5 15,43" fill="#000" shape-rendering="auto"/>
</svg>
<span class="ax" id="title" style="left:21px;top:36px;letter-spacing:-0.19px">AUDUSD,Daily</span>
<span class="ax" id="ohlc" style="left:92.5px;top:36px;letter-spacing:-0.37px;word-spacing:-0.2px">0.71362 0.71409 0.71151 0.71253</span>
<span class="ax" style="left:9px;top:445px;">RSI(14) 45.6334</span>
<span class="ax" style="left:1236.5px;top:35px;">0.74110</span>
<span class="ax" style="left:1236.5px;top:68px;">0.73620</span>
<span class="ax" style="left:1236.5px;top:101px;">0.73130</span>
<span class="ax" style="left:1236.5px;top:134px;">0.72630</span>
<span class="ax" style="left:1236.5px;top:167px;">0.72140</span>
<span class="ax" style="left:1236.5px;top:200px;">0.71650</span>
<span class="ax" style="left:1236.5px;top:233px;">0.71160</span>
<span class="ax" style="left:1236.5px;top:266px;">0.70670</span>
<span class="ax" style="left:1236.5px;top:299px;">0.70170</span>
<span class="ax" style="left:1236.5px;top:332px;">0.69680</span>
<span class="ax" style="left:1236.5px;top:365px;">0.69190</span>
<span class="ax" style="left:1236.5px;top:398px;">0.68700</span>
<span class="ax" style="left:1236.5px;top:431px;">0.68200</span>
<div class="abs" style="left:1232px;top:227px;width:41px;height:11px;background:#000"></div>
<span class="ax" style="left:1236.5px;top:228px;color:#fff;-webkit-text-stroke:0.2px #fff">0.71253</span>
<span class="ax" style="left:1234px;top:443px;">100</span>
<span class="ax" style="left:1234px;top:476px;">70</span>
<span class="ax" style="left:1234px;top:528px;">30</span>
<span class="ax" style="left:1234px;top:562px;">0</span>
<span class="ax" style="left:4px;top:577px;letter-spacing:-0.33px">4 Sep 2018</span>
<span class="ax" style="left:68px;top:577px;letter-spacing:-0.33px">13 Sep 2018</span>
<span class="ax" style="left:132px;top:577px;letter-spacing:-0.33px">22 Sep 2018</span>
<span class="ax" style="left:196px;top:577px;letter-spacing:-0.33px">2 Oct 2018</span>
<span class="ax" style="left:260px;top:577px;letter-spacing:-0.33px">11 Oct 2018</span>
<span class="ax" style="left:324px;top:577px;letter-spacing:-0.33px">20 Oct 2018</span>
<span class="ax" style="left:388px;top:577px;letter-spacing:-0.33px">30 Oct 2018</span>
<span class="ax" style="left:452px;top:577px;letter-spacing:-0.33px">8 Nov 2018</span>
<span class="ax" style="left:516px;top:577px;letter-spacing:-0.33px">17 Nov 2018</span>
<span class="ax" style="left:580px;top:577px;letter-spacing:-0.33px">27 Nov 2018</span>
<span class="ax" style="left:644px;top:577px;letter-spacing:-0.33px">6 Dec 2018</span>
<span class="ax" style="left:708px;top:577px;letter-spacing:-0.33px">15 Dec 2018</span>
<span class="ax" style="left:772px;top:577px;letter-spacing:-0.33px">25 Dec 2018</span>
<span class="ax" style="left:836px;top:577px;letter-spacing:-0.33px">3 Jan 2019</span>
<span class="ax" style="left:900px;top:577px;letter-spacing:-0.33px">12 Jan 2019</span>
<span class="ax" style="left:964px;top:577px;letter-spacing:-0.33px">22 Jan 2019</span>
<div class="panel">
<div class="abs" style="left:0;top:0;width:52px;height:24px;background:linear-gradient(#f85454,#e23232)"></div>
<div class="abs" style="left:167px;top:0;width:52px;height:24px;background:linear-gradient(#f85454,#e23232)"></div>
<div class="abs" style="left:0;top:24px;width:109px;height:40px;background:linear-gradient(#dc2c2c,#a80404)"></div>
<div class="abs" style="left:111px;top:24px;width:108px;height:40px;background:linear-gradient(#dc2c2c,#a80404)"></div>
<div class="abs" style="left:4px;top:23px;width:44px;height:1px;background:#a41414"></div>
<div class="abs" style="left:4px;top:24px;width:44px;height:1px;background:#ee7070"></div>
<div class="abs" style="left:171px;top:23px;width:44px;height:1px;background:#a41414"></div>
<div class="abs" style="left:171px;top:24px;width:44px;height:1px;background:#ee7070"></div>
<div class="abs" style="left:54px;top:0;width:109px;height:20px;border:1px solid #a9aeb8;background:#fff"></div>
<div class="abs" style="left:56px;top:2px;width:18px;height:18px;background:linear-gradient(#ececec,#c9c9c9)"></div>
<div class="abs" style="left:75px;top:1px;width:1px;height:20px;background:#b4b4b4"></div>
<div class="abs" style="left:142px;top:1px;width:1px;height:20px;background:#b4b4b4"></div>
<div class="abs" style="left:144px;top:2px;width:18px;height:18px;background:linear-gradient(#ececec,#c9c9c9)"></div>
<svg class="abs" style="left:62px;top:9px" width="6" height="4"><polygon points="0,0 5,0 2.5,3" fill="#4a5cc0"/></svg>
<svg class="abs" style="left:150px;top:9px" width="6" height="4"><polygon points="0,3 5,3 2.5,0" fill="#4a5cc0"/></svg>
<span class="abs" id="sell" style="left:12px;top:5px;font-size:12px;line-height:14px;transform-origin:0 0;transform:scaleX(0.9)">SELL</span>
<span class="abs" id="buy" style="left:179.5px;top:5px;font-size:12px;line-height:14px;transform-origin:0 0;transform:scaleX(0.93)">BUY</span>
<span class="abs" id="lot" style="left:115.5px;top:5px;font-size:12px;line-height:14px;color:#1a1a1a;letter-spacing:0.2px">0.01</span>
<span class="abs" id="s1" style="left:19px;top:44px;font-size:12px;line-height:14px;font-weight:bold;letter-spacing:0.6px">0.71</span>
<span class="abs" id="s2" style="left:46.5px;top:24px;font-size:34px;line-height:38px;transform-origin:0 0;transform:scaleX(0.97)">25</span>
<span class="abs" id="s3" style="left:87px;top:29px;font-size:11px;line-height:13px;font-weight:bold;transform-origin:0 0;transform:scaleX(1.3)">3</span>
<span class="abs" id="b1" style="left:129.5px;top:44px;font-size:12px;line-height:14px;font-weight:bold;letter-spacing:0.6px">0.71</span>
<span class="abs" id="b2" style="left:157.5px;top:24px;font-size:34px;line-height:38px;transform-origin:0 0;transform:scaleX(0.97)">27</span>
<span class="abs" id="b3" style="left:198px;top:29px;font-size:11px;line-height:13px;font-weight:bold;transform-origin:0 0;transform:scaleX(1.3)">4</span>
</div>
<div class="abs" style="left:8px;top:50px;width:219px;height:2px;background:#fff"></div>
<div class="tabbar"></div>
<div class="abs" style="left:0;top:594px;width:1275px;height:1px;background:#e3e3e3"></div>
<div class="abs" style="left:0;top:595px;width:1275px;height:1px;background:#fff"></div>
<div class="abs" style="left:0;top:596px;width:1275px;height:1px;background:#000"></div>
<div class="abs" style="left:0;top:597px;width:1px;height:18px;background:#a6a6a6"></div>
<div class="abs" style="left:1px;top:597px;width:1px;height:18px;background:#696969"></div>
<div class="abs" style="left:2px;top:597px;width:1px;height:18px;background:#fff"></div>
<div class="abs" style="left:2px;top:597px;width:108px;height:1px;background:#fff"></div>
<div class="abs" style="left:110px;top:596px;width:103px;height:18px;background:#fff;border-left:1px solid #000;border-right:1px solid #000;border-bottom:1px solid #000;"></div>
<div class="abs" style="left:0;top:616px;width:1275px;height:1px;background:#fcfcfc"></div>
<span class="tab" id="tab0" style="left:18px">EURUSD,Daily</span>
<span class="tab" id="tab1" style="left:121.7px;color:#000">AUDUSD,Daily</span>
<span class="tab" id="tab2" style="left:224px">USDCHF,Daily</span>
<span class="tab" id="tab3" style="left:325px">USDCAD,Daily</span>
<span class="tab" id="tab4" style="left:428.3px">USDCNH,H4</span>
<span class="tab" id="tab5" style="left:520px">USDJPY,Daily</span>
<span class="tab" id="tab6" style="left:616.7px">XAUUSD,H4</span>
<span class="tab" id="tab7" style="left:710px">GBPUSD,Daily</span>
<span class="tab" id="tab8" style="left:814.2px">SP500,M15</span>
<span class="tab" id="tab9" style="left:902.5px">GBPUSD,Daily</span>
<span class="tab" id="tab10" style="left:1004.2px">DJ30,H4</span>
<span class="tab" id="tab11" style="left:1072.7px">TECH100,H1</span>
<span class="tab" id="tab12" style="left:1167px">UKOil,H1</span>
<div class="sep" style="left:314px"></div>
<div class="sep" style="left:418px"></div>
<div class="sep" style="left:510px"></div>
<div class="sep" style="left:606px"></div>
<div class="sep" style="left:698px"></div>
<div class="sep" style="left:802px"></div>
<div class="sep" style="left:890px"></div>
<div class="sep" style="left:993px"></div>
<div class="sep" style="left:1062px"></div>
<div class="sep" style="left:1154px"></div>
<div class="sep" style="left:1230px"></div>
<svg class="abs" style="left:1245px;top:601px" width="5" height="8"><polygon points="4,0 4,7 0,3.5" fill="#a0a0a0"/></svg>
<svg class="abs" style="left:1265px;top:601px" width="5" height="8"><polygon points="0,0 0,7 4,3.5" fill="#000"/></svg>
</body></html>
